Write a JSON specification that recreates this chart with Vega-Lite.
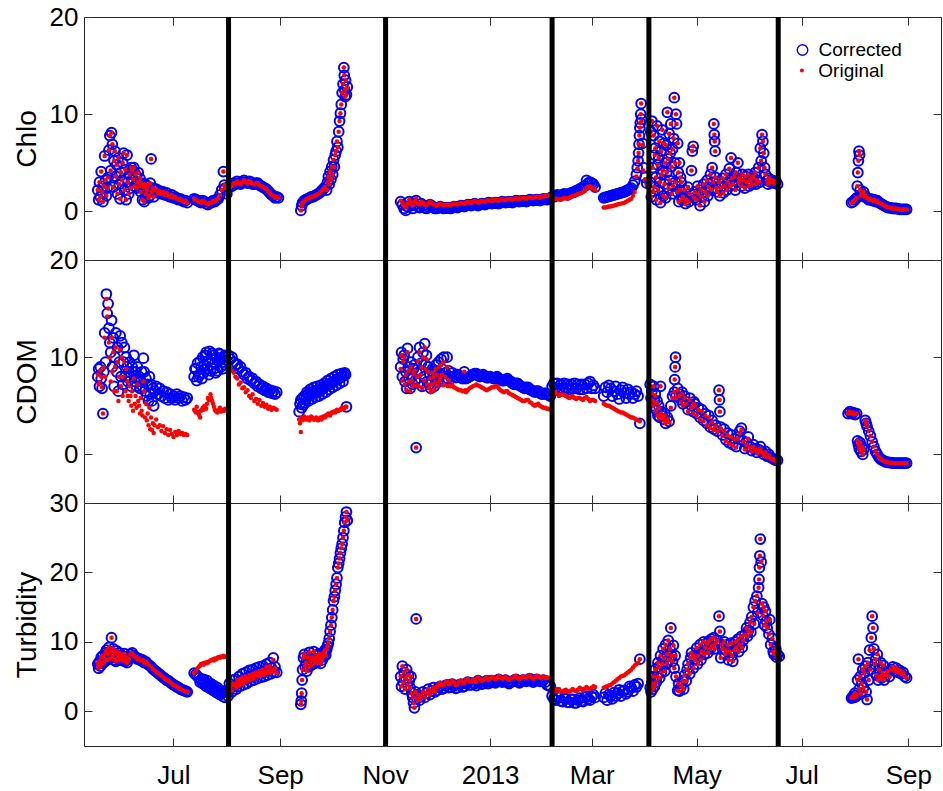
{
  "$schema": "https://vega.github.io/schema/vega-lite/v6.json",
  "background": "white",
  "padding": {"left": 12, "top": 3, "right": 0, "bottom": 0},
  "spacing": 0,
  "bounds": "flush",
  "resolve": {"scale": {"stroke": "independent", "fill": "independent"}, "legend": {"stroke": "independent", "fill": "independent"}},
  "config": {
    "view": {"stroke": "#262626", "strokeWidth": 1},
    "font": "Liberation Sans",
    "axis": {"domain": false, "grid": false, "ticks": true, "tickSize": -8, "tickColor": "#333333", "tickWidth": 1,
             "labelFont": "Liberation Sans", "labelFontSize": 26, "labelColor": "#000000",
             "titleFont": "Liberation Sans", "titleFontSize": 28, "titleFontWeight": "normal", "titleColor": "#000000"},
    "axisX": {"tickCount": {"interval": "month", "step": 2}, "labelPadding": 24, "labelFlush": false, "labelOverlap": false,
              "labelExpr": "utcFormat(datum.value, '%m') == '01' ? utcFormat(datum.value, '%Y') : utcFormat(datum.value, '%b')"},
    "axisY": {"labelPadding": 14, "titleX": -49, "titleBaseline": "alphabetic", "titleAngle": -90, "titleAlign": "center"},
    "legend": {"orient": "none", "title": null, "padding": 0, "labelFont": "Liberation Sans", "labelFontSize": 19, "labelColor": "#000000", "symbolType": "circle"}
  },
  "datasets": {
    "breaks": [{"t":"2012-08-02"},{"t":"2012-11-01T06:00Z"},{"t":"2013-02-06"},{"t":"2013-04-03T06:00Z"},{"t":"2013-06-17T10:00Z"}],
    "chlo": [
      {"t":"2012-05-18","c":2.2,"o":2.2},{"t":"2012-05-18T12:00Z","c":1.2,"o":1.2},{"t":"2012-05-19","c":3.0,"o":3.0},{"t":"2012-05-19T12:00Z","c":1.5,"o":1.5},
      {"t":"2012-05-20","c":4.1,"o":4.1},{"t":"2012-05-20T12:00Z","c":2.0,"o":2.0},{"t":"2012-05-21","c":1.0,"o":1.0},{"t":"2012-05-21T12:00Z","c":2.6,"o":2.6},
      {"t":"2012-05-22","c":5.7,"o":5.7},{"t":"2012-05-22T12:00Z","c":3.2,"o":3.2},{"t":"2012-05-23","c":1.6,"o":1.6},{"t":"2012-05-23T12:00Z","c":2.4,"o":2.4},
      {"t":"2012-05-24","c":3.5,"o":3.5},{"t":"2012-05-24T12:00Z","c":6.3,"o":6.3},{"t":"2012-05-25","c":7.8,"o":7.8},{"t":"2012-05-25T12:00Z","c":4.2,"o":4.2},
      {"t":"2012-05-26","c":8.1,"o":8.1},{"t":"2012-05-26T12:00Z","c":6.9,"o":6.9},{"t":"2012-05-27","c":2.5,"o":2.5},{"t":"2012-05-27T12:00Z","c":5.2,"o":5.2},
      {"t":"2012-05-28","c":6.2,"o":6.2},{"t":"2012-05-28T12:00Z","c":3.6,"o":3.6},{"t":"2012-05-29","c":4.8,"o":4.8},{"t":"2012-05-29T12:00Z","c":1.8,"o":1.8},
      {"t":"2012-05-30","c":5.5,"o":5.5},{"t":"2012-05-30T12:00Z","c":2.8,"o":2.8},{"t":"2012-05-31","c":1.3,"o":1.3},{"t":"2012-05-31T12:00Z","c":4.0,"o":4.0},
      {"t":"2012-06-01","c":3.2,"o":3.2},{"t":"2012-06-01T12:00Z","c":5.0,"o":5.0},{"t":"2012-06-02","c":6.0,"o":6.0},{"t":"2012-06-02T12:00Z","c":2.2,"o":2.2},
      {"t":"2012-06-03","c":4.3,"o":4.3},{"t":"2012-06-03T12:00Z","c":1.2,"o":1.2},{"t":"2012-06-04","c":5.8,"o":5.8},{"t":"2012-06-04T12:00Z","c":3.0,"o":3.0},
      {"t":"2012-06-05","c":1.8,"o":1.8},{"t":"2012-06-05T12:00Z","c":3.8,"o":3.8},{"t":"2012-06-06","c":2.4,"o":2.4},{"t":"2012-06-06T12:00Z","c":4.5,"o":4.5},
      {"t":"2012-06-07","c":4.2,"o":4.2},{"t":"2012-06-07T12:00Z","c":3.3,"o":3.3},{"t":"2012-06-08","c":4.5,"o":4.5},{"t":"2012-06-08T12:00Z","c":2.6,"o":2.6},
      {"t":"2012-06-09","c":3.8,"o":3.8},{"t":"2012-06-09T12:00Z","c":2.4,"o":2.4},{"t":"2012-06-10","c":3.0,"o":3.0},{"t":"2012-06-10T12:00Z","c":4.0,"o":4.0},
      {"t":"2012-06-11","c":2.6,"o":2.6},{"t":"2012-06-11T12:00Z","c":3.4,"o":3.4},{"t":"2012-06-12","c":2.0,"o":2.0},{"t":"2012-06-12T12:00Z","c":2.9,"o":2.9},
      {"t":"2012-06-13","c":1.2,"o":1.2},{"t":"2012-06-13T12:00Z","c":2.5,"o":2.5},{"t":"2012-06-14","c":1.0,"o":1.0},{"t":"2012-06-14T12:00Z","c":2.8,"o":2.8},
      {"t":"2012-06-15","c":1.8,"o":1.8},{"t":"2012-06-15T12:00Z","c":2.2,"o":2.2},{"t":"2012-06-16","c":2.6,"o":2.6},{"t":"2012-06-16T12:00Z","c":1.4,"o":1.4},
      {"t":"2012-06-17","c":1.6,"o":1.6},{"t":"2012-06-17T12:00Z","c":2.9,"o":2.9},{"t":"2012-06-18","c":5.4,"o":5.4},{"t":"2012-06-18T12:00Z","c":2.0,"o":2.0},
      {"t":"2012-06-19","c":2.4,"o":2.4},{"t":"2012-06-19T12:00Z","c":1.5,"o":1.5},{"t":"2012-06-20","c":2.2,"o":2.2},{"t":"2012-06-21","c":2.3,"o":2.3},
      {"t":"2012-06-22","c":1.9,"o":1.9},{"t":"2012-06-23","c":2.1,"o":2.1},{"t":"2012-06-24","c":1.8,"o":1.8},{"t":"2012-06-25","c":2.0,"o":2.0},
      {"t":"2012-06-26","c":1.7,"o":1.7},{"t":"2012-06-27","c":1.9,"o":1.9},{"t":"2012-06-28","c":1.6,"o":1.6},{"t":"2012-06-29","c":1.5,"o":1.5},
      {"t":"2012-06-30","c":1.7,"o":1.7},{"t":"2012-07-01","c":1.4,"o":1.4},{"t":"2012-07-02","c":1.5,"o":1.5},{"t":"2012-07-03","c":1.3,"o":1.3},
      {"t":"2012-07-04","c":1.2,"o":1.2},{"t":"2012-07-05","c":1.3,"o":1.3},{"t":"2012-07-06","c":1.1,"o":1.1},{"t":"2012-07-07","c":1.0,"o":1.0},
      {"t":"2012-07-08","c":1.1,"o":1.1},{"t":"2012-07-09","c":0.9,"o":0.9},
      {"t":"2012-07-13","c":1.3,"o":1.3},{"t":"2012-07-14","c":1.2,"o":1.2},{"t":"2012-07-15","c":1.1,"o":1.1},{"t":"2012-07-16","c":1.0,"o":1.0},
      {"t":"2012-07-17","c":0.9,"o":0.9},{"t":"2012-07-18","c":1.1,"o":1.1},{"t":"2012-07-19","c":1.0,"o":1.0},{"t":"2012-07-20","c":0.8,"o":0.8},
      {"t":"2012-07-21","c":0.7,"o":0.7},{"t":"2012-07-22","c":0.9,"o":0.9},{"t":"2012-07-23","c":0.9,"o":0.9},{"t":"2012-07-24","c":1.1,"o":1.1},
      {"t":"2012-07-25","c":1.0,"o":1.0},{"t":"2012-07-26","c":1.2,"o":1.2},{"t":"2012-07-27","c":1.3,"o":1.3},{"t":"2012-07-28","c":1.7,"o":1.7},
      {"t":"2012-07-29","c":2.2,"o":2.2},{"t":"2012-07-30","c":4.1,"o":4.1},{"t":"2012-07-30T12:00Z","c":2.7,"o":2.7},{"t":"2012-07-31","c":2.4,"o":2.4},
      {"t":"2012-08-01","c":1.8,"o":1.8},{"t":"2012-08-02","c":2.4,"o":2.4},{"t":"2012-08-03","c":2.7,"o":2.7},{"t":"2012-08-04","c":2.6,"o":2.6},
      {"t":"2012-08-05","c":2.9,"o":2.9},{"t":"2012-08-06","c":2.8,"o":2.8},{"t":"2012-08-07","c":3.1,"o":3.1},{"t":"2012-08-08","c":2.9,"o":2.9},
      {"t":"2012-08-09","c":2.8,"o":2.8},{"t":"2012-08-10","c":3.0,"o":3.0},{"t":"2012-08-11","c":3.2,"o":3.2},{"t":"2012-08-12","c":3.0,"o":3.0},
      {"t":"2012-08-13","c":2.9,"o":2.9},{"t":"2012-08-14","c":3.1,"o":3.1},{"t":"2012-08-15","c":3.0,"o":3.0},{"t":"2012-08-16","c":2.8,"o":2.8},
      {"t":"2012-08-17","c":2.8,"o":2.8},{"t":"2012-08-18","c":2.9,"o":2.9},{"t":"2012-08-19","c":2.9,"o":2.9},{"t":"2012-08-20","c":2.7,"o":2.7},
      {"t":"2012-08-21","c":2.6,"o":2.6},{"t":"2012-08-22","c":2.5,"o":2.5},{"t":"2012-08-23","c":2.4,"o":2.4},{"t":"2012-08-24","c":2.3,"o":2.3},
      {"t":"2012-08-25","c":2.1,"o":2.1},{"t":"2012-08-26","c":1.9,"o":1.9},{"t":"2012-08-27","c":1.7,"o":1.7},{"t":"2012-08-28","c":1.6,"o":1.6},
      {"t":"2012-08-29","c":1.4,"o":1.4},{"t":"2012-08-30","c":1.5,"o":1.5},{"t":"2012-08-31","c":1.4,"o":1.4},
      {"t":"2012-09-13","c":0.1,"o":0.1},{"t":"2012-09-13T12:00Z","c":0.6,"o":0.6},{"t":"2012-09-14","c":0.9,"o":0.9},{"t":"2012-09-15","c":1.1,"o":1.1},
      {"t":"2012-09-16","c":1.2,"o":1.2},{"t":"2012-09-17","c":1.3,"o":1.3},{"t":"2012-09-18","c":1.4,"o":1.4},{"t":"2012-09-19","c":1.5,"o":1.5},
      {"t":"2012-09-20","c":1.5,"o":1.5},{"t":"2012-09-21","c":1.6,"o":1.6},{"t":"2012-09-22","c":1.7,"o":1.7},{"t":"2012-09-23","c":1.8,"o":1.8},
      {"t":"2012-09-24","c":1.9,"o":1.9},{"t":"2012-09-25","c":2.1,"o":2.1},{"t":"2012-09-26","c":2.3,"o":2.3},{"t":"2012-09-27","c":2.5,"o":2.5},
      {"t":"2012-09-28","c":2.2,"o":2.2},{"t":"2012-09-28T12:00Z","c":3.0,"o":3.0},{"t":"2012-09-29","c":3.6,"o":3.6},{"t":"2012-09-29T12:00Z","c":2.8,"o":2.8},
      {"t":"2012-09-30","c":4.1,"o":4.1},{"t":"2012-09-30T12:00Z","c":3.3,"o":3.3},{"t":"2012-10-01","c":4.6,"o":4.6},{"t":"2012-10-01T12:00Z","c":3.8,"o":3.8},
      {"t":"2012-10-02","c":5.3,"o":5.3},{"t":"2012-10-02T12:00Z","c":4.6,"o":4.6},{"t":"2012-10-03","c":5.8,"o":5.8},{"t":"2012-10-03T12:00Z","c":6.2,"o":6.2},
      {"t":"2012-10-04","c":7.2,"o":7.2},{"t":"2012-10-04T12:00Z","c":6.6,"o":6.6},{"t":"2012-10-05","c":8.2,"o":8.2},{"t":"2012-10-05T12:00Z","c":9.3,"o":9.3},
      {"t":"2012-10-06","c":10.1,"o":10.1},{"t":"2012-10-06T12:00Z","c":11.0,"o":11.0},{"t":"2012-10-07","c":12.2,"o":12.2},{"t":"2012-10-07T12:00Z","c":13.1,"o":13.1},
      {"t":"2012-10-08","c":14.8,"o":14.8},{"t":"2012-10-08T06:00Z","c":14.0,"o":14.0},{"t":"2012-10-08T12:00Z","c":12.5,"o":12.5},{"t":"2012-10-08T18:00Z","c":11.8,"o":11.8},
      {"t":"2012-10-09","c":13.5,"o":13.5},{"t":"2012-10-09T12:00Z","c":12.0,"o":12.0},{"t":"2012-10-10","c":12.8,"o":12.8},
      {"t":"2012-11-10","c":1.0,"o":1.1},{"t":"2012-11-11","c":0.7,"o":0.9},{"t":"2012-11-12","c":0.3,"o":0.6},{"t":"2012-11-13","c":0.1,"o":0.4},
      {"t":"2012-11-14","c":0.5,"o":0.8},{"t":"2012-11-15","c":1.0,"o":1.2},{"t":"2012-11-16","c":0.6,"o":0.9},{"t":"2012-11-17","c":0.3,"o":0.6},
      {"t":"2012-11-18","c":0.7,"o":1.0},{"t":"2012-11-19","c":1.1,"o":1.3},{"t":"2012-11-20","c":0.5,"o":0.8},{"t":"2012-11-21","c":0.4,"o":0.7},
      {"t":"2012-11-22","c":0.8,"o":1.0},{"t":"2012-11-23","c":0.6,"o":0.9},{"t":"2012-11-24","c":0.4,"o":0.7},{"t":"2012-11-25","c":0.3,"o":0.6},
      {"t":"2012-11-26","c":0.5,"o":0.8},{"t":"2012-11-27","c":0.7,"o":1.0},{"t":"2012-11-28","c":0.6,"o":0.9},{"t":"2012-11-29","c":0.4,"o":0.7},
      {"t":"2012-11-30","c":0.3,"o":0.6},{"t":"2012-12-01","c":0.3,"o":0.6},{"t":"2012-12-02","c":0.4,"o":0.7},{"t":"2012-12-03","c":0.5,"o":0.8},
      {"t":"2012-12-04","c":0.4,"o":0.7},{"t":"2012-12-05","c":0.3,"o":0.6},{"t":"2012-12-06","c":0.35,"o":0.65},{"t":"2012-12-07","c":0.4,"o":0.7},
      {"t":"2012-12-08","c":0.35,"o":0.65},{"t":"2012-12-09","c":0.3,"o":0.6},{"t":"2012-12-10","c":0.4,"o":0.7},{"t":"2012-12-11","c":0.5,"o":0.8},
      {"t":"2012-12-12","c":0.45,"o":0.75},{"t":"2012-12-13","c":0.4,"o":0.7},{"t":"2012-12-14","c":0.5,"o":0.8},{"t":"2012-12-15","c":0.6,"o":0.9},
      {"t":"2012-12-16","c":0.55,"o":0.85},{"t":"2012-12-17","c":0.5,"o":0.8},{"t":"2012-12-18","c":0.6,"o":0.9},{"t":"2012-12-19","c":0.7,"o":1.0},
      {"t":"2012-12-20","c":0.65,"o":0.95},{"t":"2012-12-21","c":0.6,"o":0.9},{"t":"2012-12-22","c":0.7,"o":1.0},{"t":"2012-12-23","c":0.8,"o":1.1},
      {"t":"2012-12-24","c":0.7,"o":1.0},{"t":"2012-12-25","c":0.6,"o":0.9},{"t":"2012-12-26","c":0.7,"o":1.0},{"t":"2012-12-27","c":0.8,"o":1.1},
      {"t":"2012-12-28","c":0.75,"o":1.05},{"t":"2012-12-29","c":0.7,"o":1.0},{"t":"2012-12-30","c":0.8,"o":1.1},{"t":"2012-12-31","c":0.9,"o":1.15},
      {"t":"2013-01-01","c":0.85,"o":1.1},{"t":"2013-01-02","c":0.8,"o":1.1},{"t":"2013-01-03","c":0.85,"o":1.15},{"t":"2013-01-04","c":0.9,"o":1.2},
      {"t":"2013-01-05","c":0.85,"o":1.15},{"t":"2013-01-06","c":0.8,"o":1.1},{"t":"2013-01-07","c":0.9,"o":1.2},{"t":"2013-01-08","c":1.0,"o":1.25},
      {"t":"2013-01-09","c":0.95,"o":1.2},{"t":"2013-01-10","c":0.9,"o":1.2},{"t":"2013-01-11","c":0.95,"o":1.25},{"t":"2013-01-12","c":1.0,"o":1.3},
      {"t":"2013-01-13","c":0.95,"o":1.25},{"t":"2013-01-14","c":0.9,"o":1.2},{"t":"2013-01-15","c":1.0,"o":1.3},{"t":"2013-01-16","c":1.1,"o":1.35},
      {"t":"2013-01-17","c":1.05,"o":1.3},{"t":"2013-01-18","c":1.0,"o":1.3},{"t":"2013-01-19","c":1.05,"o":1.35},{"t":"2013-01-20","c":1.1,"o":1.4},
      {"t":"2013-01-21","c":1.05,"o":1.35},{"t":"2013-01-22","c":1.0,"o":1.3},{"t":"2013-01-23","c":1.1,"o":1.4},{"t":"2013-01-24","c":1.2,"o":1.45},
      {"t":"2013-01-25","c":1.15,"o":1.4},{"t":"2013-01-26","c":1.1,"o":1.4},{"t":"2013-01-27","c":1.15,"o":1.45},{"t":"2013-01-28","c":1.2,"o":1.5},
      {"t":"2013-01-29","c":1.15,"o":1.45},{"t":"2013-01-30","c":1.1,"o":1.4},{"t":"2013-01-31","c":1.2,"o":1.5},{"t":"2013-02-01","c":1.3,"o":1.55},
      {"t":"2013-02-02","c":1.25,"o":1.55},{"t":"2013-02-03","c":1.2,"o":1.6},{"t":"2013-02-04","c":1.3,"o":1.65},{"t":"2013-02-05","c":1.4,"o":1.7},
      {"t":"2013-02-06","c":1.5,"o":1.2},{"t":"2013-02-07","c":1.5,"o":1.2},{"t":"2013-02-08","c":1.6,"o":1.3},{"t":"2013-02-09","c":1.7,"o":1.3},
      {"t":"2013-02-10","c":1.65,"o":1.25},{"t":"2013-02-11","c":1.6,"o":1.2},{"t":"2013-02-12","c":1.7,"o":1.3},{"t":"2013-02-13","c":1.8,"o":1.4},
      {"t":"2013-02-14","c":1.75,"o":1.35},{"t":"2013-02-15","c":1.7,"o":1.3},{"t":"2013-02-16","c":1.8,"o":1.4},{"t":"2013-02-17","c":1.9,"o":1.5},
      {"t":"2013-02-18","c":1.95,"o":1.55},{"t":"2013-02-19","c":2.0,"o":1.6},{"t":"2013-02-20","c":2.1,"o":1.7},{"t":"2013-02-21","c":2.2,"o":1.8},
      {"t":"2013-02-22","c":2.3,"o":1.85},{"t":"2013-02-23","c":2.4,"o":1.9},{"t":"2013-02-24","c":2.5,"o":2.0},{"t":"2013-02-25","c":2.6,"o":2.1},
      {"t":"2013-02-26","c":3.2,"o":2.4},{"t":"2013-02-27","c":2.9,"o":2.5},{"t":"2013-02-28","c":3.0,"o":2.6},{"t":"2013-03-01","c":2.9,"o":2.4},
      {"t":"2013-03-02","c":2.8,"o":2.3},{"t":"2013-03-03","c":2.5,"o":2.2},
      {"t":"2013-03-08","c":1.4,"o":0.4},{"t":"2013-03-09","c":1.45,"o":0.4},{"t":"2013-03-10","c":1.5,"o":0.45},{"t":"2013-03-11","c":1.55,"o":0.5},
      {"t":"2013-03-12","c":1.6,"o":0.5},{"t":"2013-03-13","c":1.65,"o":0.55},{"t":"2013-03-14","c":1.7,"o":0.6},{"t":"2013-03-15","c":1.75,"o":0.65},
      {"t":"2013-03-16","c":1.8,"o":0.7},{"t":"2013-03-17","c":1.85,"o":0.75},{"t":"2013-03-18","c":1.9,"o":0.8},{"t":"2013-03-19","c":1.95,"o":0.85},
      {"t":"2013-03-20","c":2.0,"o":0.9},{"t":"2013-03-21","c":2.1,"o":1.0},{"t":"2013-03-22","c":2.2,"o":1.1},{"t":"2013-03-23","c":2.3,"o":1.2},
      {"t":"2013-03-24","c":2.4,"o":1.3},{"t":"2013-03-25","c":2.7,"o":1.6},{"t":"2013-03-26","c":3.1,"o":2.0},{"t":"2013-03-27","c":3.8,"o":3.6},
      {"t":"2013-03-27T12:00Z","c":4.5,"o":4.4},{"t":"2013-03-28","c":5.2,"o":5.2},{"t":"2013-03-28T06:00Z","c":6.0,"o":6.0},{"t":"2013-03-28T12:00Z","c":6.9,"o":6.9},
      {"t":"2013-03-28T18:00Z","c":7.8,"o":7.8},{"t":"2013-03-29","c":8.6,"o":8.6},{"t":"2013-03-29T06:00Z","c":9.1,"o":9.1},{"t":"2013-03-29T12:00Z","c":10.0,"o":10.0},
      {"t":"2013-03-29T18:00Z","c":11.1,"o":11.1},{"t":"2013-03-30","c":9.5,"o":9.3},{"t":"2013-03-30T12:00Z","c":7.0,"o":6.8},{"t":"2013-03-31","c":4.5,"o":4.2},
      {"t":"2013-04-01","c":3.5,"o":3.3},{"t":"2013-04-02","c":2.9,"o":2.7},
      {"t":"2013-04-04","c":3.0,"o":3.0},{"t":"2013-04-04T08:00Z","c":8.2,"o":8.2},{"t":"2013-04-04T16:00Z","c":1.5,"o":1.5},
      {"t":"2013-04-05","c":9.3,"o":9.3},{"t":"2013-04-05T08:00Z","c":4.5,"o":4.5},{"t":"2013-04-05T16:00Z","c":2.0,"o":2.0},
      {"t":"2013-04-06","c":7.8,"o":7.8},{"t":"2013-04-06T08:00Z","c":2.5,"o":2.5},{"t":"2013-04-06T16:00Z","c":5.8,"o":5.8},
      {"t":"2013-04-07","c":6.5,"o":6.5},{"t":"2013-04-07T08:00Z","c":3.5,"o":3.5},{"t":"2013-04-07T16:00Z","c":1.2,"o":1.2},
      {"t":"2013-04-08","c":8.8,"o":8.8},{"t":"2013-04-08T08:00Z","c":4.8,"o":4.8},{"t":"2013-04-08T16:00Z","c":2.2,"o":2.2},
      {"t":"2013-04-09","c":5.5,"o":5.5},{"t":"2013-04-09T08:00Z","c":7.2,"o":7.2},{"t":"2013-04-09T16:00Z","c":3.0,"o":3.0},
      {"t":"2013-04-10","c":0.9,"o":0.9},{"t":"2013-04-10T08:00Z","c":6.2,"o":6.2},{"t":"2013-04-10T16:00Z","c":3.8,"o":3.8},
      {"t":"2013-04-11","c":8.4,"o":8.4},{"t":"2013-04-11T08:00Z","c":4.2,"o":4.2},{"t":"2013-04-11T16:00Z","c":1.6,"o":1.6},
      {"t":"2013-04-12","c":7.0,"o":7.0},{"t":"2013-04-12T08:00Z","c":2.8,"o":2.8},{"t":"2013-04-12T16:00Z","c":5.0,"o":5.0},
      {"t":"2013-04-13","c":1.4,"o":1.4},{"t":"2013-04-13T08:00Z","c":6.8,"o":6.8},{"t":"2013-04-13T16:00Z","c":4.0,"o":4.0},
      {"t":"2013-04-14","c":10.2,"o":10.2},{"t":"2013-04-14T08:00Z","c":5.4,"o":5.4},{"t":"2013-04-14T16:00Z","c":2.4,"o":2.4},
      {"t":"2013-04-15","c":8.0,"o":8.0},{"t":"2013-04-15T08:00Z","c":3.2,"o":3.2},{"t":"2013-04-15T16:00Z","c":6.0,"o":6.0},
      {"t":"2013-04-16","c":9.0,"o":9.0},{"t":"2013-04-16T08:00Z","c":4.6,"o":4.6},{"t":"2013-04-16T16:00Z","c":1.8,"o":1.8},
      {"t":"2013-04-17","c":6.4,"o":6.4},{"t":"2013-04-17T08:00Z","c":2.6,"o":2.6},{"t":"2013-04-17T16:00Z","c":7.5,"o":7.5},
      {"t":"2013-04-18","c":11.7,"o":11.7},{"t":"2013-04-18T08:00Z","c":5.0,"o":5.0},{"t":"2013-04-18T16:00Z","c":3.0,"o":3.0},
      {"t":"2013-04-19","c":10.0,"o":10.0},{"t":"2013-04-19T08:00Z","c":9.0,"o":9.0},{"t":"2013-04-19T16:00Z","c":2.0,"o":2.0},
      {"t":"2013-04-20","c":7.0,"o":7.0},{"t":"2013-04-20T08:00Z","c":4.0,"o":4.0},{"t":"2013-04-20T16:00Z","c":1.0,"o":1.0},
      {"t":"2013-04-21","c":5.0,"o":5.0},{"t":"2013-04-21T08:00Z","c":2.2,"o":2.2},{"t":"2013-04-21T16:00Z","c":3.5,"o":3.5},
      {"t":"2013-04-22","c":3.0,"o":3.0},{"t":"2013-04-22T12:00Z","c":1.2,"o":1.2},{"t":"2013-04-23","c":1.5,"o":1.5},{"t":"2013-04-24","c":2.2,"o":2.2},
      {"t":"2013-04-24T12:00Z","c":0.8,"o":0.8},{"t":"2013-04-25","c":1.2,"o":1.2},{"t":"2013-04-26","c":2.5,"o":2.5},{"t":"2013-04-26T12:00Z","c":1.0,"o":1.0},
      {"t":"2013-04-27","c":1.8,"o":1.8},{"t":"2013-04-28","c":4.2,"o":4.2},{"t":"2013-04-28T12:00Z","c":6.2,"o":6.2},{"t":"2013-04-29","c":6.7,"o":6.7},
      {"t":"2013-04-29T12:00Z","c":1.4,"o":1.4},{"t":"2013-04-30","c":2.0,"o":2.0},{"t":"2013-05-01","c":1.2,"o":1.2},{"t":"2013-05-01T12:00Z","c":2.6,"o":2.6},
      {"t":"2013-05-02","c":1.8,"o":1.8},{"t":"2013-05-03","c":0.6,"o":0.6},{"t":"2013-05-03T12:00Z","c":2.2,"o":2.2},{"t":"2013-05-04","c":1.5,"o":1.5},
      {"t":"2013-05-05","c":2.8,"o":2.8},{"t":"2013-05-05T12:00Z","c":1.0,"o":1.0},{"t":"2013-05-06","c":2.0,"o":2.0},{"t":"2013-05-07","c":3.2,"o":3.2},
      {"t":"2013-05-07T12:00Z","c":1.6,"o":1.6},{"t":"2013-05-08","c":2.5,"o":2.5},{"t":"2013-05-09","c":3.8,"o":3.8},{"t":"2013-05-09T12:00Z","c":2.2,"o":2.2},
      {"t":"2013-05-10","c":4.5,"o":4.5},{"t":"2013-05-10T12:00Z","c":3.0,"o":3.0},{"t":"2013-05-11","c":9.0,"o":9.0},{"t":"2013-05-11T06:00Z","c":7.9,"o":7.9},
      {"t":"2013-05-11T12:00Z","c":7.2,"o":7.2},{"t":"2013-05-11T18:00Z","c":6.2,"o":6.2},{"t":"2013-05-12","c":3.5,"o":3.5},{"t":"2013-05-12T12:00Z","c":2.4,"o":2.4},
      {"t":"2013-05-13","c":2.0,"o":2.0},{"t":"2013-05-14","c":3.0,"o":3.0},{"t":"2013-05-14T12:00Z","c":1.6,"o":1.6},{"t":"2013-05-15","c":2.4,"o":2.4},
      {"t":"2013-05-16","c":3.4,"o":3.4},{"t":"2013-05-16T12:00Z","c":1.9,"o":1.9},{"t":"2013-05-17","c":2.6,"o":2.6},{"t":"2013-05-18","c":3.8,"o":3.8},
      {"t":"2013-05-18T12:00Z","c":2.2,"o":2.2},{"t":"2013-05-19","c":3.0,"o":3.0},{"t":"2013-05-20","c":4.4,"o":4.4},{"t":"2013-05-20T12:00Z","c":2.6,"o":2.6},
      {"t":"2013-05-21","c":5.5,"o":5.5},{"t":"2013-05-21T12:00Z","c":3.4,"o":3.4},{"t":"2013-05-22","c":2.8,"o":2.8},{"t":"2013-05-23","c":3.6,"o":3.6},
      {"t":"2013-05-23T12:00Z","c":2.2,"o":2.2},{"t":"2013-05-24","c":4.0,"o":4.0},{"t":"2013-05-25","c":5.0,"o":5.0},{"t":"2013-05-25T12:00Z","c":3.0,"o":3.0},
      {"t":"2013-05-26","c":3.4,"o":3.4},{"t":"2013-05-27","c":2.6,"o":2.6},{"t":"2013-05-27T12:00Z","c":3.8,"o":3.8},{"t":"2013-05-28","c":3.2,"o":3.2},
      {"t":"2013-05-29","c":2.4,"o":2.4},{"t":"2013-05-29T12:00Z","c":3.6,"o":3.6},{"t":"2013-05-30","c":3.0,"o":3.0},{"t":"2013-05-31","c":3.8,"o":3.8},
      {"t":"2013-05-31T12:00Z","c":2.6,"o":2.6},{"t":"2013-06-01","c":3.2,"o":3.2},{"t":"2013-06-02","c":2.8,"o":2.8},{"t":"2013-06-02T12:00Z","c":3.6,"o":3.6},
      {"t":"2013-06-03","c":3.4,"o":3.4},{"t":"2013-06-04","c":4.0,"o":4.0},{"t":"2013-06-04T12:00Z","c":2.8,"o":2.8},{"t":"2013-06-05","c":3.2,"o":3.2},
      {"t":"2013-06-06","c":4.5,"o":4.5},{"t":"2013-06-06T12:00Z","c":3.0,"o":3.0},{"t":"2013-06-07","c":6.5,"o":6.5},{"t":"2013-06-07T12:00Z","c":5.2,"o":5.2},
      {"t":"2013-06-08","c":7.9,"o":7.9},{"t":"2013-06-08T12:00Z","c":7.2,"o":7.2},{"t":"2013-06-09","c":6.0,"o":6.0},{"t":"2013-06-09T12:00Z","c":4.5,"o":4.5},
      {"t":"2013-06-10","c":3.8,"o":3.8},{"t":"2013-06-11","c":3.2,"o":3.2},{"t":"2013-06-11T12:00Z","c":2.8,"o":2.8},{"t":"2013-06-12","c":3.4,"o":3.4},
      {"t":"2013-06-13","c":3.0,"o":3.0},{"t":"2013-06-14","c":3.2,"o":3.2},{"t":"2013-06-15","c":2.9,"o":2.9},{"t":"2013-06-16","c":3.1,"o":3.1},
      {"t":"2013-06-17","c":2.8,"o":2.8},
      {"t":"2013-07-30","c":0.9,"o":0.9},{"t":"2013-07-31","c":1.0,"o":1.0},{"t":"2013-08-01","c":1.2,"o":1.2},{"t":"2013-08-02","c":1.4,"o":1.4},
      {"t":"2013-08-02T08:00Z","c":2.6,"o":2.6},{"t":"2013-08-02T16:00Z","c":4.0,"o":4.0},{"t":"2013-08-03","c":5.2,"o":5.2},{"t":"2013-08-03T08:00Z","c":6.2,"o":6.2},
      {"t":"2013-08-03T16:00Z","c":5.8,"o":5.8},{"t":"2013-08-04","c":2.2,"o":2.2},{"t":"2013-08-04T12:00Z","c":1.6,"o":1.6},{"t":"2013-08-05","c":1.8,"o":1.8},
      {"t":"2013-08-06","c":2.0,"o":2.0},{"t":"2013-08-06T12:00Z","c":1.5,"o":1.5},{"t":"2013-08-07","c":1.6,"o":1.6},{"t":"2013-08-08","c":1.4,"o":1.4},
      {"t":"2013-08-09","c":1.2,"o":1.2},{"t":"2013-08-10","c":1.3,"o":1.3},{"t":"2013-08-11","c":1.1,"o":1.1},{"t":"2013-08-12","c":1.2,"o":1.2},
      {"t":"2013-08-13","c":1.0,"o":1.0},{"t":"2013-08-14","c":1.1,"o":1.1},{"t":"2013-08-15","c":0.9,"o":0.9},{"t":"2013-08-16","c":0.8,"o":0.8},
      {"t":"2013-08-17","c":0.7,"o":0.7},{"t":"2013-08-18","c":0.6,"o":0.6},{"t":"2013-08-19","c":0.5,"o":0.5},{"t":"2013-08-20","c":0.4,"o":0.4},
      {"t":"2013-08-21","c":0.4,"o":0.4},{"t":"2013-08-22","c":0.35,"o":0.35},{"t":"2013-08-23","c":0.3,"o":0.3},{"t":"2013-08-24","c":0.3,"o":0.3},
      {"t":"2013-08-25","c":0.3,"o":0.3},{"t":"2013-08-26","c":0.25,"o":0.25},{"t":"2013-08-27","c":0.2,"o":0.2},{"t":"2013-08-28","c":0.2,"o":0.2},
      {"t":"2013-08-29","c":0.2,"o":0.2},{"t":"2013-08-30","c":0.2,"o":0.2},{"t":"2013-08-31","c":0.2,"o":0.2}
    ],
    "cdom": [
      {"t":"2012-05-18","c":8.0,"o":8.2},{"t":"2012-05-18T12:00Z","c":8.8,"o":7.2},{"t":"2012-05-19","c":7.0,"o":7.4},{"t":"2012-05-19T12:00Z","c":9.0,"o":8.6},
      {"t":"2012-05-20","c":7.8,"o":8.0},{"t":"2012-05-20T12:00Z","c":6.8,"o":6.9},{"t":"2012-05-21","c":4.2,"o":4.2},{"t":"2012-05-21T12:00Z","c":8.5,"o":9.0},
      {"t":"2012-05-22","c":12.5,"o":12.0},{"t":"2012-05-22T12:00Z","c":9.5,"o":8.0},{"t":"2012-05-23","c":16.5,"o":16.0},{"t":"2012-05-23T12:00Z","c":14.5,"o":14.2},
      {"t":"2012-05-24","c":15.5,"o":15.0},{"t":"2012-05-24T12:00Z","c":13.0,"o":11.5},{"t":"2012-05-25","c":11.5,"o":10.0},{"t":"2012-05-25T12:00Z","c":10.5,"o":7.5},
      {"t":"2012-05-26","c":13.8,"o":12.0},{"t":"2012-05-26T12:00Z","c":9.0,"o":8.5},{"t":"2012-05-27","c":12.0,"o":10.5},{"t":"2012-05-27T12:00Z","c":7.0,"o":6.5},
      {"t":"2012-05-28","c":10.0,"o":9.0},{"t":"2012-05-28T12:00Z","c":12.5,"o":11.0},{"t":"2012-05-29","c":8.5,"o":6.5},{"t":"2012-05-29T12:00Z","c":11.0,"o":9.5},
      {"t":"2012-05-30","c":6.5,"o":5.5},{"t":"2012-05-30T12:00Z","c":9.5,"o":8.0},{"t":"2012-05-31","c":12.2,"o":10.8},{"t":"2012-05-31T12:00Z","c":8.0,"o":7.0},
      {"t":"2012-06-01","c":11.5,"o":10.0},{"t":"2012-06-01T12:00Z","c":7.2,"o":6.0},{"t":"2012-06-02","c":9.5,"o":8.0},{"t":"2012-06-02T12:00Z","c":11.0,"o":9.5},
      {"t":"2012-06-03","c":8.0,"o":6.5},{"t":"2012-06-03T12:00Z","c":10.0,"o":8.8},{"t":"2012-06-04","c":9.0,"o":7.5},{"t":"2012-06-04T12:00Z","c":7.5,"o":6.0},
      {"t":"2012-06-05","c":8.5,"o":5.5},{"t":"2012-06-05T12:00Z","c":9.5,"o":7.0},{"t":"2012-06-06","c":8.0,"o":6.0},{"t":"2012-06-06T12:00Z","c":7.0,"o":5.0},
      {"t":"2012-06-07","c":9.0,"o":6.5},{"t":"2012-06-07T12:00Z","c":8.5,"o":4.5},{"t":"2012-06-08","c":10.2,"o":7.8},{"t":"2012-06-08T12:00Z","c":7.5,"o":5.2},
      {"t":"2012-06-09","c":8.5,"o":6.0},{"t":"2012-06-09T12:00Z","c":7.0,"o":4.8},{"t":"2012-06-10","c":9.0,"o":7.2},{"t":"2012-06-10T12:00Z","c":7.8,"o":5.5},
      {"t":"2012-06-11","c":8.0,"o":5.0},{"t":"2012-06-11T12:00Z","c":6.8,"o":4.2},{"t":"2012-06-12","c":7.5,"o":5.8},{"t":"2012-06-12T12:00Z","c":8.5,"o":4.5},
      {"t":"2012-06-13","c":7.0,"o":4.0},{"t":"2012-06-13T12:00Z","c":9.9,"o":7.5},{"t":"2012-06-14","c":8.5,"o":6.5},{"t":"2012-06-14T12:00Z","c":6.5,"o":3.8},
      {"t":"2012-06-15","c":7.8,"o":5.2},{"t":"2012-06-15T12:00Z","c":6.0,"o":3.5},{"t":"2012-06-16","c":7.2,"o":4.2},{"t":"2012-06-16T12:00Z","c":5.5,"o":3.0},
      {"t":"2012-06-17","c":8.0,"o":4.8},{"t":"2012-06-17T12:00Z","c":6.2,"o":2.6},{"t":"2012-06-18","c":7.2,"o":3.8},{"t":"2012-06-18T12:00Z","c":5.5,"o":2.5},
      {"t":"2012-06-19","c":6.8,"o":3.2},{"t":"2012-06-19T12:00Z","c":5.0,"o":2.2},{"t":"2012-06-20","c":6.5,"o":3.0},{"t":"2012-06-21","c":7.0,"o":3.6},
      {"t":"2012-06-22","c":6.2,"o":2.8},{"t":"2012-06-23","c":6.8,"o":3.0},{"t":"2012-06-24","c":6.0,"o":2.4},{"t":"2012-06-25","c":6.5,"o":2.9},
      {"t":"2012-06-26","c":5.8,"o":2.2},{"t":"2012-06-27","c":6.4,"o":2.6},{"t":"2012-06-28","c":5.6,"o":2.0},{"t":"2012-06-29","c":6.2,"o":2.5},
      {"t":"2012-06-30","c":5.8,"o":2.1},{"t":"2012-07-01","c":6.0,"o":1.8},{"t":"2012-07-02","c":5.6,"o":2.3},{"t":"2012-07-03","c":6.2,"o":2.0},
      {"t":"2012-07-04","c":5.8,"o":2.4},{"t":"2012-07-05","c":6.0,"o":2.1},{"t":"2012-07-06","c":5.5,"o":2.2},{"t":"2012-07-07","c":5.9,"o":2.0},
      {"t":"2012-07-08","c":5.6,"o":2.1},{"t":"2012-07-09","c":5.8,"o":2.0},
      {"t":"2012-07-13","c":8.0,"o":4.6},{"t":"2012-07-13T12:00Z","c":8.8,"o":4.5},{"t":"2012-07-14","c":8.8,"o":4.3},{"t":"2012-07-14T12:00Z","c":7.6,"o":4.9},
      {"t":"2012-07-15","c":9.4,"o":4.4},{"t":"2012-07-15T12:00Z","c":8.0,"o":4.2},{"t":"2012-07-16","c":8.2,"o":4.0},{"t":"2012-07-16T12:00Z","c":9.6,"o":3.8},
      {"t":"2012-07-17","c":9.0,"o":4.5},{"t":"2012-07-17T12:00Z","c":7.8,"o":4.6},{"t":"2012-07-18","c":10.0,"o":4.8},{"t":"2012-07-18T12:00Z","c":8.4,"o":4.6},
      {"t":"2012-07-19","c":9.2,"o":5.0},{"t":"2012-07-19T12:00Z","c":10.2,"o":4.9},{"t":"2012-07-20","c":10.5,"o":4.7},{"t":"2012-07-20T12:00Z","c":8.8,"o":5.2},
      {"t":"2012-07-21","c":9.6,"o":5.8},{"t":"2012-07-21T12:00Z","c":8.2,"o":5.6},{"t":"2012-07-22","c":10.6,"o":5.6},{"t":"2012-07-22T12:00Z","c":8.6,"o":6.2},
      {"t":"2012-07-23","c":9.8,"o":5.8},{"t":"2012-07-23T12:00Z","c":10.4,"o":5.5},{"t":"2012-07-24","c":10.2,"o":5.2},{"t":"2012-07-24T12:00Z","c":8.8,"o":4.9},
      {"t":"2012-07-25","c":9.4,"o":4.6},{"t":"2012-07-25T12:00Z","c":8.4,"o":4.5},{"t":"2012-07-26","c":10.0,"o":4.4},{"t":"2012-07-26T12:00Z","c":8.6,"o":4.3},
      {"t":"2012-07-27","c":9.6,"o":4.5},{"t":"2012-07-27T12:00Z","c":10.4,"o":4.6},{"t":"2012-07-28","c":10.3,"o":4.8},{"t":"2012-07-28T12:00Z","c":9.0,"o":4.4},
      {"t":"2012-07-29","c":9.8,"o":4.6},{"t":"2012-07-29T12:00Z","c":8.8,"o":4.5},{"t":"2012-07-30","c":9.5,"o":4.5},{"t":"2012-07-30T12:00Z","c":10.0,"o":4.5},
      {"t":"2012-07-31","c":10.2,"o":4.7},{"t":"2012-07-31T12:00Z","c":9.2,"o":4.6},
      {"t":"2012-08-02","c":10.2,"o":9.6},{"t":"2012-08-03","c":9.8,"o":9.0},{"t":"2012-08-04","c":10.0,"o":8.6},{"t":"2012-08-05","c":9.5,"o":8.4},
      {"t":"2012-08-06","c":9.2,"o":8.0},{"t":"2012-08-07","c":9.3,"o":7.8},{"t":"2012-08-08","c":8.8,"o":7.2},{"t":"2012-08-09","c":9.0,"o":7.4},
      {"t":"2012-08-10","c":8.5,"o":6.8},{"t":"2012-08-11","c":8.2,"o":6.9},{"t":"2012-08-12","c":8.4,"o":6.4},{"t":"2012-08-13","c":7.8,"o":6.6},
      {"t":"2012-08-14","c":8.0,"o":6.0},{"t":"2012-08-15","c":7.6,"o":5.8},{"t":"2012-08-16","c":7.8,"o":6.2},{"t":"2012-08-17","c":7.3,"o":5.5},
      {"t":"2012-08-18","c":7.5,"o":5.7},{"t":"2012-08-19","c":7.0,"o":5.2},{"t":"2012-08-20","c":7.2,"o":5.6},{"t":"2012-08-21","c":6.8,"o":5.0},
      {"t":"2012-08-22","c":7.0,"o":5.3},{"t":"2012-08-23","c":6.6,"o":4.9},{"t":"2012-08-24","c":6.8,"o":5.1},{"t":"2012-08-25","c":6.4,"o":4.7},
      {"t":"2012-08-26","c":6.6,"o":4.9},{"t":"2012-08-27","c":6.3,"o":4.6},{"t":"2012-08-28","c":6.5,"o":4.8},{"t":"2012-08-29","c":6.2,"o":4.7},
      {"t":"2012-08-30","c":6.4,"o":4.6},
      {"t":"2012-09-12","c":4.4,"o":3.6},{"t":"2012-09-12T12:00Z","c":5.2,"o":3.2},{"t":"2012-09-13","c":5.6,"o":2.3},{"t":"2012-09-13T12:00Z","c":4.8,"o":3.8},
      {"t":"2012-09-14","c":5.8,"o":3.5},{"t":"2012-09-14T12:00Z","c":5.1,"o":3.6},{"t":"2012-09-15","c":6.0,"o":3.9},{"t":"2012-09-15T12:00Z","c":5.3,"o":3.7},
      {"t":"2012-09-16","c":5.7,"o":3.6},{"t":"2012-09-16T12:00Z","c":6.4,"o":3.7},{"t":"2012-09-17","c":6.2,"o":3.8},{"t":"2012-09-17T12:00Z","c":5.5,"o":3.6},
      {"t":"2012-09-18","c":6.1,"o":3.5},{"t":"2012-09-18T12:00Z","c":6.7,"o":3.7},{"t":"2012-09-19","c":6.4,"o":3.9},{"t":"2012-09-19T12:00Z","c":5.7,"o":3.8},
      {"t":"2012-09-20","c":6.3,"o":3.7},{"t":"2012-09-20T12:00Z","c":6.9,"o":3.6},{"t":"2012-09-21","c":6.5,"o":3.6},{"t":"2012-09-21T12:00Z","c":5.9,"o":3.7},
      {"t":"2012-09-22","c":6.4,"o":3.8},{"t":"2012-09-22T12:00Z","c":7.0,"o":3.6},{"t":"2012-09-23","c":6.6,"o":3.5},{"t":"2012-09-23T12:00Z","c":6.0,"o":3.6},
      {"t":"2012-09-24","c":6.5,"o":3.7},{"t":"2012-09-24T12:00Z","c":7.1,"o":3.8},{"t":"2012-09-25","c":6.7,"o":3.6},{"t":"2012-09-25T12:00Z","c":6.2,"o":3.8},
      {"t":"2012-09-26","c":6.8,"o":3.9},{"t":"2012-09-26T12:00Z","c":7.3,"o":3.9},{"t":"2012-09-27","c":7.0,"o":3.8},{"t":"2012-09-27T12:00Z","c":6.4,"o":4.0},
      {"t":"2012-09-28","c":7.1,"o":4.0},{"t":"2012-09-28T12:00Z","c":7.6,"o":4.1},{"t":"2012-09-29","c":7.2,"o":4.2},{"t":"2012-09-29T12:00Z","c":6.7,"o":4.1},
      {"t":"2012-09-30","c":7.2,"o":4.0},{"t":"2012-09-30T12:00Z","c":7.8,"o":4.2},{"t":"2012-10-01","c":7.4,"o":4.3},{"t":"2012-10-01T12:00Z","c":6.9,"o":4.3},
      {"t":"2012-10-02","c":7.5,"o":4.4},{"t":"2012-10-02T12:00Z","c":8.0,"o":4.4},{"t":"2012-10-03","c":7.6,"o":4.3},{"t":"2012-10-03T12:00Z","c":7.1,"o":4.5},
      {"t":"2012-10-04","c":7.7,"o":4.6},{"t":"2012-10-04T12:00Z","c":8.2,"o":4.5},{"t":"2012-10-05","c":7.8,"o":4.5},{"t":"2012-10-05T12:00Z","c":7.3,"o":4.6},
      {"t":"2012-10-06","c":7.9,"o":4.6},{"t":"2012-10-06T12:00Z","c":8.3,"o":4.7},{"t":"2012-10-07","c":8.0,"o":4.8},{"t":"2012-10-07T12:00Z","c":7.5,"o":4.7},
      {"t":"2012-10-08","c":8.1,"o":4.7},{"t":"2012-10-08T12:00Z","c":8.4,"o":4.8},{"t":"2012-10-09","c":8.2,"o":4.9},{"t":"2012-10-09T12:00Z","c":4.9,"o":4.9},
      {"t":"2012-11-10","c":9.0,"o":8.8},{"t":"2012-11-10T12:00Z","c":10.5,"o":10.2},{"t":"2012-11-11","c":8.0,"o":7.6},{"t":"2012-11-11T12:00Z","c":9.8,"o":9.5},
      {"t":"2012-11-12","c":10.2,"o":10.0},{"t":"2012-11-12T12:00Z","c":7.5,"o":7.2},{"t":"2012-11-13","c":8.5,"o":8.2},{"t":"2012-11-13T12:00Z","c":6.8,"o":6.6},
      {"t":"2012-11-14","c":10.9,"o":10.5},{"t":"2012-11-14T12:00Z","c":9.0,"o":8.6},{"t":"2012-11-15","c":7.8,"o":7.5},{"t":"2012-11-15T12:00Z","c":6.8,"o":6.5},
      {"t":"2012-11-16","c":9.5,"o":9.0},{"t":"2012-11-16T12:00Z","c":8.0,"o":7.6},{"t":"2012-11-17","c":7.2,"o":7.0},{"t":"2012-11-17T12:00Z","c":8.8,"o":8.3},
      {"t":"2012-11-18","c":9.2,"o":8.6},{"t":"2012-11-18T12:00Z","c":7.6,"o":7.2},{"t":"2012-11-19","c":0.7,"o":0.7},{"t":"2012-11-19T12:00Z","c":8.4,"o":8.0},
      {"t":"2012-11-20","c":10.0,"o":9.6},{"t":"2012-11-20T12:00Z","c":7.4,"o":7.0},{"t":"2012-11-21","c":11.0,"o":10.5},{"t":"2012-11-21T12:00Z","c":8.6,"o":8.2},
      {"t":"2012-11-22","c":9.4,"o":9.0},{"t":"2012-11-22T12:00Z","c":7.0,"o":6.8},{"t":"2012-11-23","c":10.5,"o":10.0},{"t":"2012-11-23T12:00Z","c":8.0,"o":7.6},
      {"t":"2012-11-24","c":11.4,"o":11.0},{"t":"2012-11-24T12:00Z","c":9.2,"o":8.8},{"t":"2012-11-25","c":10.2,"o":9.8},{"t":"2012-11-25T12:00Z","c":7.5,"o":7.2},
      {"t":"2012-11-26","c":9.0,"o":8.5},{"t":"2012-11-26T12:00Z","c":7.2,"o":6.8},{"t":"2012-11-27","c":8.2,"o":7.8},{"t":"2012-11-27T12:00Z","c":6.8,"o":6.4},
      {"t":"2012-11-28","c":7.6,"o":7.2},{"t":"2012-11-28T12:00Z","c":8.8,"o":8.4},{"t":"2012-11-29","c":8.5,"o":8.0},{"t":"2012-11-29T12:00Z","c":7.0,"o":6.6},
      {"t":"2012-11-30","c":7.8,"o":7.4},{"t":"2012-11-30T12:00Z","c":9.2,"o":8.8},{"t":"2012-12-01","c":8.6,"o":8.2},{"t":"2012-12-01T12:00Z","c":7.4,"o":7.0},
      {"t":"2012-12-02","c":9.5,"o":9.0},{"t":"2012-12-02T12:00Z","c":8.0,"o":7.5},{"t":"2012-12-03","c":8.2,"o":7.8},{"t":"2012-12-03T12:00Z","c":9.8,"o":9.2},
      {"t":"2012-12-04","c":8.8,"o":8.2},{"t":"2012-12-04T12:00Z","c":7.6,"o":7.1},{"t":"2012-12-05","c":10.0,"o":9.5},{"t":"2012-12-05T12:00Z","c":7.6,"o":7.2},
      {"t":"2012-12-06","c":8.4,"o":8.0},{"t":"2012-12-07","c":10.0,"o":9.0},{"t":"2012-12-07T12:00Z","c":7.8,"o":7.0},{"t":"2012-12-08","c":8.6,"o":7.6},
      {"t":"2012-12-09","c":8.0,"o":7.0},{"t":"2012-12-10","c":8.4,"o":7.2},{"t":"2012-12-11","c":8.0,"o":6.9},{"t":"2012-12-12","c":7.9,"o":6.8},
      {"t":"2012-12-13","c":8.2,"o":6.7},{"t":"2012-12-14","c":8.1,"o":6.6},{"t":"2012-12-15","c":7.9,"o":6.6},{"t":"2012-12-16","c":7.8,"o":6.5},
      {"t":"2012-12-17","c":8.5,"o":8.5},{"t":"2012-12-17T12:00Z","c":7.9,"o":6.6},{"t":"2012-12-18","c":7.8,"o":6.4},{"t":"2012-12-19","c":7.9,"o":6.6},
      {"t":"2012-12-20","c":8.0,"o":6.8},{"t":"2012-12-21","c":8.1,"o":6.9},{"t":"2012-12-22","c":8.2,"o":7.0},{"t":"2012-12-23","c":8.3,"o":7.1},
      {"t":"2012-12-24","c":8.3,"o":7.2},{"t":"2012-12-25","c":8.1,"o":7.1},{"t":"2012-12-26","c":8.0,"o":7.0},{"t":"2012-12-27","c":8.1,"o":6.9},
      {"t":"2012-12-28","c":8.2,"o":6.8},{"t":"2012-12-29","c":8.0,"o":6.7},{"t":"2012-12-30","c":7.9,"o":6.6},{"t":"2012-12-31","c":7.9,"o":6.7},
      {"t":"2013-01-01","c":8.0,"o":6.8},{"t":"2013-01-02","c":7.9,"o":6.9},{"t":"2013-01-03","c":7.8,"o":6.9},{"t":"2013-01-04","c":7.9,"o":7.0},
      {"t":"2013-01-05","c":8.0,"o":7.0},{"t":"2013-01-06","c":7.8,"o":6.8},{"t":"2013-01-07","c":7.7,"o":6.6},{"t":"2013-01-08","c":7.6,"o":6.5},
      {"t":"2013-01-09","c":7.6,"o":6.4},{"t":"2013-01-10","c":7.7,"o":6.5},{"t":"2013-01-11","c":7.8,"o":6.5},{"t":"2013-01-12","c":7.6,"o":6.3},
      {"t":"2013-01-13","c":7.5,"o":6.2},{"t":"2013-01-14","c":7.3,"o":6.1},{"t":"2013-01-15","c":7.2,"o":6.0},{"t":"2013-01-16","c":7.3,"o":5.9},
      {"t":"2013-01-17","c":7.3,"o":5.8},{"t":"2013-01-18","c":7.1,"o":5.7},{"t":"2013-01-19","c":7.0,"o":5.6},{"t":"2013-01-20","c":6.9,"o":5.5},
      {"t":"2013-01-21","c":6.8,"o":5.5},{"t":"2013-01-22","c":6.9,"o":5.6},{"t":"2013-01-23","c":6.9,"o":5.6},{"t":"2013-01-24","c":6.7,"o":5.4},
      {"t":"2013-01-25","c":6.6,"o":5.3},{"t":"2013-01-26","c":6.5,"o":5.1},{"t":"2013-01-27","c":6.4,"o":5.0},{"t":"2013-01-28","c":6.5,"o":5.1},
      {"t":"2013-01-29","c":6.5,"o":5.2},{"t":"2013-01-30","c":6.3,"o":5.0},{"t":"2013-01-31","c":6.2,"o":4.9},{"t":"2013-02-01","c":6.2,"o":4.8},
      {"t":"2013-02-02","c":6.3,"o":4.8},{"t":"2013-02-03","c":6.2,"o":4.7},{"t":"2013-02-04","c":6.1,"o":4.7},{"t":"2013-02-05","c":6.0,"o":4.6},
      {"t":"2013-02-06","c":7.0,"o":6.2},{"t":"2013-02-07","c":7.3,"o":6.3},{"t":"2013-02-08","c":6.8,"o":6.4},{"t":"2013-02-09","c":7.3,"o":6.2},
      {"t":"2013-02-10","c":6.8,"o":6.0},{"t":"2013-02-11","c":7.2,"o":6.1},{"t":"2013-02-12","c":6.7,"o":6.2},{"t":"2013-02-13","c":7.3,"o":6.1},
      {"t":"2013-02-14","c":6.8,"o":6.0},{"t":"2013-02-15","c":7.2,"o":5.9},{"t":"2013-02-16","c":6.7,"o":5.8},{"t":"2013-02-17","c":7.2,"o":5.9},
      {"t":"2013-02-18","c":6.8,"o":6.0},{"t":"2013-02-19","c":7.3,"o":5.8},{"t":"2013-02-20","c":6.8,"o":5.7},{"t":"2013-02-21","c":7.2,"o":5.8},
      {"t":"2013-02-22","c":6.7,"o":5.8},{"t":"2013-02-23","c":7.2,"o":5.7},{"t":"2013-02-24","c":6.7,"o":5.6},{"t":"2013-02-25","c":7.2,"o":5.8},
      {"t":"2013-02-26","c":6.8,"o":5.9},{"t":"2013-02-27","c":7.3,"o":5.7},{"t":"2013-02-28","c":7.5,"o":5.5},{"t":"2013-03-01","c":6.8,"o":5.6},
      {"t":"2013-03-02","c":7.1,"o":5.6},{"t":"2013-03-03","c":6.8,"o":5.5},
      {"t":"2013-03-08","c":6.0,"o":5.2},{"t":"2013-03-09","c":6.9,"o":5.1},{"t":"2013-03-10","c":6.4,"o":5.0},{"t":"2013-03-11","c":7.1,"o":5.0},
      {"t":"2013-03-12","c":6.8,"o":4.9},{"t":"2013-03-13","c":6.0,"o":4.8},{"t":"2013-03-14","c":6.5,"o":4.7},{"t":"2013-03-15","c":7.0,"o":4.6},
      {"t":"2013-03-16","c":6.2,"o":4.5},{"t":"2013-03-17","c":5.7,"o":4.4},{"t":"2013-03-18","c":6.6,"o":4.3},{"t":"2013-03-19","c":6.9,"o":4.3},
      {"t":"2013-03-20","c":6.3,"o":4.2},{"t":"2013-03-21","c":5.8,"o":4.1},{"t":"2013-03-22","c":6.7,"o":4.0},{"t":"2013-03-23","c":6.2,"o":3.9},
      {"t":"2013-03-24","c":6.4,"o":3.8},{"t":"2013-03-25","c":5.8,"o":3.8},{"t":"2013-03-26","c":6.2,"o":3.7},{"t":"2013-03-27","c":6.5,"o":3.6},
      {"t":"2013-03-28","c":6.0,"o":3.5},{"t":"2013-03-29","c":3.2,"o":3.4},
      {"t":"2013-04-04","c":7.2,"o":7.0},{"t":"2013-04-04T12:00Z","c":5.8,"o":5.6},{"t":"2013-04-05","c":6.5,"o":6.3},{"t":"2013-04-05T12:00Z","c":5.0,"o":5.0},
      {"t":"2013-04-06","c":7.0,"o":7.0},{"t":"2013-04-06T12:00Z","c":5.5,"o":5.4},{"t":"2013-04-07","c":6.2,"o":6.0},{"t":"2013-04-07T12:00Z","c":4.6,"o":4.5},
      {"t":"2013-04-08","c":5.5,"o":5.3},{"t":"2013-04-08T12:00Z","c":4.0,"o":4.0},{"t":"2013-04-09","c":5.0,"o":4.8},{"t":"2013-04-09T12:00Z","c":3.8,"o":3.7},
      {"t":"2013-04-10","c":7.0,"o":7.0},{"t":"2013-04-10T12:00Z","c":4.4,"o":4.2},{"t":"2013-04-11","c":4.0,"o":3.8},{"t":"2013-04-12","c":3.6,"o":3.5},
      {"t":"2013-04-12T12:00Z","c":4.2,"o":4.0},{"t":"2013-04-13","c":3.2,"o":3.2},{"t":"2013-04-14","c":3.8,"o":3.6},{"t":"2013-04-15","c":3.4,"o":3.3},
      {"t":"2013-04-16","c":5.0,"o":4.8},{"t":"2013-04-17","c":6.0,"o":5.8},{"t":"2013-04-18","c":6.4,"o":6.4},{"t":"2013-04-18T06:00Z","c":7.7,"o":7.7},
      {"t":"2013-04-18T12:00Z","c":9.0,"o":9.0},{"t":"2013-04-18T18:00Z","c":10.0,"o":10.0},{"t":"2013-04-19","c":6.0,"o":5.8},{"t":"2013-04-20","c":6.8,"o":6.6},
      {"t":"2013-04-21","c":6.2,"o":6.0},{"t":"2013-04-22","c":5.6,"o":5.4},{"t":"2013-04-22T12:00Z","c":6.4,"o":6.2},{"t":"2013-04-23","c":5.2,"o":5.0},
      {"t":"2013-04-24","c":6.0,"o":5.8},{"t":"2013-04-25","c":5.4,"o":5.2},{"t":"2013-04-26","c":4.6,"o":4.4},{"t":"2013-04-27","c":5.8,"o":5.6},
      {"t":"2013-04-28","c":5.0,"o":4.8},{"t":"2013-04-29","c":4.4,"o":4.2},{"t":"2013-04-29T12:00Z","c":5.4,"o":5.2},{"t":"2013-04-30","c":5.2,"o":5.0},
      {"t":"2013-05-01","c":4.2,"o":4.0},{"t":"2013-05-02","c":4.8,"o":4.6},{"t":"2013-05-03","c":3.8,"o":3.6},{"t":"2013-05-04","c":4.6,"o":4.4},
      {"t":"2013-05-05","c":3.5,"o":3.4},{"t":"2013-05-06","c":4.2,"o":4.0},{"t":"2013-05-07","c":3.2,"o":3.0},{"t":"2013-05-08","c":4.0,"o":3.8},
      {"t":"2013-05-09","c":2.8,"o":2.7},{"t":"2013-05-10","c":3.5,"o":3.3},{"t":"2013-05-11","c":2.6,"o":2.5},{"t":"2013-05-12","c":3.0,"o":2.9},
      {"t":"2013-05-13","c":2.4,"o":2.3},{"t":"2013-05-14","c":6.6,"o":6.6},{"t":"2013-05-14T06:00Z","c":5.6,"o":5.6},{"t":"2013-05-14T12:00Z","c":4.4,"o":4.4},
      {"t":"2013-05-15","c":2.8,"o":2.7},{"t":"2013-05-16","c":2.0,"o":1.9},{"t":"2013-05-17","c":2.6,"o":2.4},{"t":"2013-05-18","c":1.5,"o":1.4},
      {"t":"2013-05-19","c":2.2,"o":2.0},{"t":"2013-05-20","c":1.2,"o":1.1},{"t":"2013-05-21","c":2.0,"o":1.8},{"t":"2013-05-22","c":1.0,"o":0.9},
      {"t":"2013-05-23","c":1.6,"o":1.5},{"t":"2013-05-24","c":0.8,"o":0.7},{"t":"2013-05-25","c":1.8,"o":1.6},{"t":"2013-05-26","c":2.4,"o":2.2},
      {"t":"2013-05-27","c":2.7,"o":2.5},{"t":"2013-05-28","c":1.4,"o":1.3},{"t":"2013-05-29","c":0.6,"o":0.5},{"t":"2013-05-30","c":1.2,"o":1.0},
      {"t":"2013-05-31","c":1.8,"o":1.6},{"t":"2013-06-01","c":0.8,"o":0.7},{"t":"2013-06-02","c":0.4,"o":0.3},{"t":"2013-06-03","c":1.0,"o":0.8},
      {"t":"2013-06-04","c":0.6,"o":0.5},{"t":"2013-06-05","c":0.2,"o":0.1},{"t":"2013-06-06","c":0.5,"o":0.4},{"t":"2013-06-07","c":0.8,"o":0.6},
      {"t":"2013-06-08","c":0.3,"o":0.2},{"t":"2013-06-09","c":0.0,"o":-0.1},{"t":"2013-06-10","c":0.3,"o":0.2},{"t":"2013-06-11","c":-0.2,"o":-0.3},
      {"t":"2013-06-12","c":0.0,"o":-0.1},{"t":"2013-06-13","c":-0.3,"o":-0.4},{"t":"2013-06-14","c":-0.4,"o":-0.5},{"t":"2013-06-15","c":-0.5,"o":-0.6},
      {"t":"2013-06-16","c":-0.6,"o":-0.7},{"t":"2013-06-17","c":-0.6,"o":-0.7},
      {"t":"2013-07-28","c":4.2,"o":4.2},{"t":"2013-07-29","c":4.4,"o":4.4},{"t":"2013-07-30","c":4.2,"o":4.2},{"t":"2013-07-31","c":4.3,"o":4.3},
      {"t":"2013-08-01","c":4.1,"o":4.1},{"t":"2013-08-02","c":4.2,"o":4.2},{"t":"2013-08-02T12:00Z","c":1.4,"o":1.4},{"t":"2013-08-03","c":1.0,"o":1.0},
      {"t":"2013-08-03T12:00Z","c":0.6,"o":0.6},{"t":"2013-08-04","c":1.2,"o":1.2},{"t":"2013-08-04T12:00Z","c":0.3,"o":0.3},{"t":"2013-08-05","c":0.8,"o":0.8},
      {"t":"2013-08-05T12:00Z","c":0.0,"o":0.0},{"t":"2013-08-06","c":0.5,"o":0.5},{"t":"2013-08-07","c":3.5,"o":3.5},{"t":"2013-08-07T12:00Z","c":3.2,"o":3.2},
      {"t":"2013-08-08","c":2.9,"o":2.9},{"t":"2013-08-09","c":2.4,"o":2.4},{"t":"2013-08-10","c":1.9,"o":1.9},{"t":"2013-08-11","c":1.3,"o":1.3},
      {"t":"2013-08-12","c":0.8,"o":0.8},{"t":"2013-08-13","c":0.3,"o":0.3},{"t":"2013-08-14","c":0.0,"o":0.0},{"t":"2013-08-15","c":-0.3,"o":-0.3},
      {"t":"2013-08-16","c":-0.5,"o":-0.5},{"t":"2013-08-17","c":-0.6,"o":-0.6},{"t":"2013-08-18","c":-0.7,"o":-0.7},{"t":"2013-08-19","c":-0.8,"o":-0.8},
      {"t":"2013-08-20","c":-0.8,"o":-0.8},{"t":"2013-08-21","c":-0.85,"o":-0.85},{"t":"2013-08-22","c":-0.85,"o":-0.85},{"t":"2013-08-23","c":-0.9,"o":-0.9},
      {"t":"2013-08-24","c":-0.9,"o":-0.9},{"t":"2013-08-25","c":-0.9,"o":-0.9},{"t":"2013-08-26","c":-0.9,"o":-0.9},{"t":"2013-08-27","c":-0.9,"o":-0.9},
      {"t":"2013-08-28","c":-0.9,"o":-0.9},{"t":"2013-08-29","c":-0.9,"o":-0.9},{"t":"2013-08-30","c":-0.9,"o":-0.9},{"t":"2013-08-31","c":-0.9,"o":-0.9}
    ],
    "turb": [
      {"t":"2012-05-18","c":6.8,"o":6.8},{"t":"2012-05-18T12:00Z","c":6.2,"o":6.2},{"t":"2012-05-19","c":7.2,"o":7.2},{"t":"2012-05-19T12:00Z","c":6.5,"o":6.5},
      {"t":"2012-05-20","c":7.8,"o":7.8},{"t":"2012-05-20T12:00Z","c":6.9,"o":6.9},{"t":"2012-05-21","c":8.0,"o":8.0},{"t":"2012-05-21T12:00Z","c":7.0,"o":7.0},
      {"t":"2012-05-22","c":7.5,"o":7.5},{"t":"2012-05-22T12:00Z","c":8.4,"o":8.4},{"t":"2012-05-23","c":8.8,"o":8.8},{"t":"2012-05-23T12:00Z","c":7.4,"o":7.4},
      {"t":"2012-05-24","c":8.2,"o":8.2},{"t":"2012-05-24T12:00Z","c":9.2,"o":9.2},{"t":"2012-05-25","c":7.6,"o":7.6},{"t":"2012-05-25T12:00Z","c":8.6,"o":8.6},
      {"t":"2012-05-26","c":10.6,"o":10.6},{"t":"2012-05-26T12:00Z","c":8.0,"o":8.0},{"t":"2012-05-27","c":9.0,"o":9.0},{"t":"2012-05-27T12:00Z","c":7.4,"o":7.4},
      {"t":"2012-05-28","c":8.3,"o":8.3},{"t":"2012-05-28T12:00Z","c":7.2,"o":7.2},{"t":"2012-05-29","c":8.7,"o":8.7},{"t":"2012-05-29T12:00Z","c":7.6,"o":7.6},
      {"t":"2012-05-30","c":7.9,"o":7.9},{"t":"2012-05-30T12:00Z","c":8.4,"o":8.4},{"t":"2012-05-31","c":7.4,"o":7.4},{"t":"2012-05-31T12:00Z","c":8.1,"o":8.1},
      {"t":"2012-06-01","c":8.0,"o":8.0},{"t":"2012-06-01T12:00Z","c":7.3,"o":7.3},{"t":"2012-06-02","c":7.6,"o":7.6},{"t":"2012-06-02T12:00Z","c":8.3,"o":8.3},
      {"t":"2012-06-03","c":7.2,"o":7.2},{"t":"2012-06-03T12:00Z","c":7.8,"o":7.8},{"t":"2012-06-04","c":7.0,"o":7.0},{"t":"2012-06-04T12:00Z","c":7.6,"o":7.6},
      {"t":"2012-06-05","c":7.5,"o":7.5},{"t":"2012-06-06","c":8.2,"o":8.2},{"t":"2012-06-07","c":8.4,"o":8.4},{"t":"2012-06-08","c":8.0,"o":8.0},
      {"t":"2012-06-09","c":7.8,"o":7.8},{"t":"2012-06-10","c":7.5,"o":7.5},{"t":"2012-06-11","c":7.6,"o":7.6},{"t":"2012-06-12","c":7.3,"o":7.3},
      {"t":"2012-06-13","c":7.4,"o":7.4},{"t":"2012-06-14","c":7.0,"o":7.0},{"t":"2012-06-15","c":7.1,"o":7.1},{"t":"2012-06-16","c":6.8,"o":6.8},
      {"t":"2012-06-17","c":6.6,"o":6.6},{"t":"2012-06-18","c":6.4,"o":6.4},{"t":"2012-06-19","c":6.1,"o":6.1},{"t":"2012-06-20","c":5.9,"o":5.9},
      {"t":"2012-06-21","c":5.7,"o":5.7},{"t":"2012-06-22","c":5.5,"o":5.5},{"t":"2012-06-23","c":5.3,"o":5.3},{"t":"2012-06-24","c":5.1,"o":5.1},
      {"t":"2012-06-25","c":4.9,"o":4.9},{"t":"2012-06-26","c":4.7,"o":4.7},{"t":"2012-06-27","c":4.5,"o":4.5},{"t":"2012-06-28","c":4.4,"o":4.4},
      {"t":"2012-06-29","c":4.2,"o":4.2},{"t":"2012-06-30","c":4.0,"o":4.0},{"t":"2012-07-01","c":3.8,"o":3.8},{"t":"2012-07-02","c":3.7,"o":3.7},
      {"t":"2012-07-03","c":3.5,"o":3.5},{"t":"2012-07-04","c":3.4,"o":3.4},{"t":"2012-07-05","c":3.2,"o":3.2},{"t":"2012-07-06","c":3.1,"o":3.1},
      {"t":"2012-07-07","c":3.0,"o":3.0},{"t":"2012-07-08","c":2.9,"o":2.9},{"t":"2012-07-09","c":2.8,"o":2.8},
      {"t":"2012-07-13","c":5.5,"o":5.5},{"t":"2012-07-14","c":5.3,"o":5.8},{"t":"2012-07-15","c":5.0,"o":6.2},{"t":"2012-07-16","c":4.8,"o":6.5},
      {"t":"2012-07-16T12:00Z","c":4.2,"o":6.6},{"t":"2012-07-17","c":4.5,"o":6.8},{"t":"2012-07-18","c":4.0,"o":6.9},{"t":"2012-07-18T12:00Z","c":4.6,"o":6.7},
      {"t":"2012-07-19","c":4.2,"o":7.0},{"t":"2012-07-20","c":3.6,"o":6.9},{"t":"2012-07-20T12:00Z","c":4.4,"o":7.1},{"t":"2012-07-21","c":3.8,"o":7.0},
      {"t":"2012-07-22","c":3.3,"o":7.2},{"t":"2012-07-22T12:00Z","c":4.0,"o":7.3},{"t":"2012-07-23","c":3.5,"o":7.4},{"t":"2012-07-24","c":3.0,"o":7.5},
      {"t":"2012-07-24T12:00Z","c":3.7,"o":7.3},{"t":"2012-07-25","c":3.2,"o":7.6},{"t":"2012-07-26","c":2.7,"o":7.5},{"t":"2012-07-26T12:00Z","c":3.4,"o":7.7},
      {"t":"2012-07-27","c":2.9,"o":7.8},{"t":"2012-07-28","c":2.4,"o":7.7},{"t":"2012-07-28T12:00Z","c":3.0,"o":7.9},{"t":"2012-07-29","c":2.6,"o":7.8},
      {"t":"2012-07-30","c":2.1,"o":8.0},{"t":"2012-07-30T12:00Z","c":2.8,"o":7.8},{"t":"2012-07-31","c":2.0,"o":7.9},
      {"t":"2012-08-01T18:00Z","c":2.2,"o":2.6},{"t":"2012-08-02","c":2.9,"o":2.9},{"t":"2012-08-02T12:00Z","c":4.0,"o":3.2},{"t":"2012-08-03","c":3.3,"o":3.5},
      {"t":"2012-08-04","c":2.8,"o":3.0},{"t":"2012-08-04T12:00Z","c":4.5,"o":4.0},{"t":"2012-08-05","c":3.6,"o":3.8},{"t":"2012-08-06","c":4.6,"o":3.9},
      {"t":"2012-08-06T12:00Z","c":3.2,"o":3.4},{"t":"2012-08-07","c":3.9,"o":4.5},{"t":"2012-08-08","c":5.0,"o":4.2},{"t":"2012-08-08T12:00Z","c":3.6,"o":3.7},
      {"t":"2012-08-09","c":4.4,"o":4.6},{"t":"2012-08-10","c":5.4,"o":4.9},{"t":"2012-08-10T12:00Z","c":3.8,"o":4.0},{"t":"2012-08-11","c":4.6,"o":4.4},
      {"t":"2012-08-12","c":5.6,"o":5.0},{"t":"2012-08-12T12:00Z","c":4.0,"o":4.3},{"t":"2012-08-13","c":4.8,"o":4.8},{"t":"2012-08-14","c":5.9,"o":5.2},
      {"t":"2012-08-14T12:00Z","c":4.3,"o":4.5},{"t":"2012-08-15","c":5.0,"o":5.0},{"t":"2012-08-16","c":6.0,"o":5.4},{"t":"2012-08-16T12:00Z","c":4.5,"o":4.7},
      {"t":"2012-08-17","c":5.3,"o":5.2},{"t":"2012-08-18","c":6.2,"o":5.6},{"t":"2012-08-18T12:00Z","c":4.7,"o":5.0},{"t":"2012-08-19","c":5.5,"o":5.4},
      {"t":"2012-08-20","c":6.4,"o":5.8},{"t":"2012-08-20T12:00Z","c":4.9,"o":5.1},{"t":"2012-08-21","c":5.6,"o":5.5},{"t":"2012-08-22","c":6.5,"o":6.0},
      {"t":"2012-08-22T12:00Z","c":5.0,"o":5.3},{"t":"2012-08-23","c":5.8,"o":5.7},{"t":"2012-08-24","c":6.8,"o":6.4},{"t":"2012-08-24T12:00Z","c":5.2,"o":5.5},
      {"t":"2012-08-25","c":6.0,"o":5.8},{"t":"2012-08-26","c":7.0,"o":6.5},{"t":"2012-08-26T12:00Z","c":5.4,"o":5.6},{"t":"2012-08-27","c":6.2,"o":6.0},
      {"t":"2012-08-28","c":7.7,"o":7.4},{"t":"2012-08-28T12:00Z","c":5.6,"o":5.8},{"t":"2012-08-29","c":6.4,"o":6.2},{"t":"2012-08-30","c":5.6,"o":5.5},
      {"t":"2012-09-13","c":1.0,"o":1.0},{"t":"2012-09-13T06:00Z","c":1.5,"o":1.5},{"t":"2012-09-13T12:00Z","c":2.6,"o":2.6},{"t":"2012-09-13T18:00Z","c":4.5,"o":4.5},
      {"t":"2012-09-14","c":6.0,"o":6.0},{"t":"2012-09-14T12:00Z","c":7.7,"o":7.7},{"t":"2012-09-15","c":8.2,"o":8.2},{"t":"2012-09-15T12:00Z","c":6.5,"o":6.5},
      {"t":"2012-09-16","c":7.0,"o":7.0},{"t":"2012-09-16T12:00Z","c":5.8,"o":5.8},{"t":"2012-09-17","c":7.8,"o":7.8},{"t":"2012-09-17T12:00Z","c":6.4,"o":6.4},
      {"t":"2012-09-18","c":8.5,"o":8.5},{"t":"2012-09-18T12:00Z","c":7.2,"o":7.2},{"t":"2012-09-19","c":6.6,"o":6.6},{"t":"2012-09-19T12:00Z","c":7.8,"o":7.8},
      {"t":"2012-09-20","c":7.4,"o":7.4},{"t":"2012-09-20T12:00Z","c":8.6,"o":8.6},{"t":"2012-09-21","c":6.9,"o":6.9},{"t":"2012-09-21T12:00Z","c":7.6,"o":7.6},
      {"t":"2012-09-22","c":8.0,"o":8.0},{"t":"2012-09-22T12:00Z","c":7.1,"o":7.1},{"t":"2012-09-23","c":7.3,"o":7.3},{"t":"2012-09-23T12:00Z","c":8.3,"o":8.3},
      {"t":"2012-09-24","c":7.7,"o":7.7},{"t":"2012-09-24T12:00Z","c":6.9,"o":6.9},{"t":"2012-09-25","c":7.9,"o":7.9},{"t":"2012-09-25T12:00Z","c":7.4,"o":7.4},
      {"t":"2012-09-26","c":8.4,"o":8.4},{"t":"2012-09-26T12:00Z","c":8.0,"o":8.0},{"t":"2012-09-27","c":8.8,"o":8.8},{"t":"2012-09-27T12:00Z","c":8.1,"o":8.1},
      {"t":"2012-09-28","c":8.9,"o":8.9},{"t":"2012-09-28T12:00Z","c":9.4,"o":9.4},{"t":"2012-09-29","c":9.8,"o":9.8},{"t":"2012-09-29T12:00Z","c":10.5,"o":10.5},
      {"t":"2012-09-30","c":11.5,"o":11.5},{"t":"2012-09-30T12:00Z","c":12.4,"o":12.4},{"t":"2012-10-01","c":13.5,"o":13.5},{"t":"2012-10-01T12:00Z","c":14.6,"o":14.6},
      {"t":"2012-10-02","c":15.9,"o":15.9},{"t":"2012-10-02T12:00Z","c":16.5,"o":16.5},{"t":"2012-10-03","c":17.4,"o":17.4},{"t":"2012-10-03T12:00Z","c":18.3,"o":18.3},
      {"t":"2012-10-04","c":19.2,"o":19.2},{"t":"2012-10-04T12:00Z","c":20.7,"o":20.7},{"t":"2012-10-05","c":21.3,"o":21.3},{"t":"2012-10-05T12:00Z","c":22.0,"o":22.0},
      {"t":"2012-10-06","c":22.8,"o":22.8},{"t":"2012-10-06T12:00Z","c":23.5,"o":23.5},{"t":"2012-10-07","c":24.1,"o":24.1},{"t":"2012-10-07T12:00Z","c":25.0,"o":25.0},
      {"t":"2012-10-08","c":26.0,"o":26.0},{"t":"2012-10-08T12:00Z","c":27.2,"o":27.2},{"t":"2012-10-09","c":28.0,"o":28.0},{"t":"2012-10-09T12:00Z","c":28.7,"o":28.7},
      {"t":"2012-10-10","c":27.5,"o":27.5},
      {"t":"2012-11-10","c":5.0,"o":5.0},{"t":"2012-11-10T12:00Z","c":3.6,"o":3.6},{"t":"2012-11-11","c":6.5,"o":6.5},{"t":"2012-11-11T12:00Z","c":4.2,"o":4.2},
      {"t":"2012-11-12","c":5.6,"o":5.6},{"t":"2012-11-12T12:00Z","c":3.2,"o":3.2},{"t":"2012-11-13","c":4.8,"o":4.8},{"t":"2012-11-13T12:00Z","c":6.0,"o":6.0},
      {"t":"2012-11-14","c":3.8,"o":3.8},{"t":"2012-11-14T12:00Z","c":5.2,"o":5.2},{"t":"2012-11-15","c":4.4,"o":4.4},{"t":"2012-11-15T12:00Z","c":3.4,"o":3.4},
      {"t":"2012-11-16","c":5.0,"o":5.0},{"t":"2012-11-16T12:00Z","c":2.6,"o":2.6},{"t":"2012-11-17","c":2.0,"o":2.0},{"t":"2012-11-17T12:00Z","c":1.2,"o":1.2},
      {"t":"2012-11-18","c":0.5,"o":0.5},{"t":"2012-11-18T12:00Z","c":2.8,"o":2.8},{"t":"2012-11-19","c":13.3,"o":13.3},{"t":"2012-11-19T12:00Z","c":1.8,"o":1.8},
      {"t":"2012-11-20","c":2.4,"o":2.4},{"t":"2012-11-21","c":1.6,"o":1.6},{"t":"2012-11-22","c":2.2,"o":2.2},{"t":"2012-11-23","c":2.8,"o":2.8},
      {"t":"2012-11-24","c":2.0,"o":2.0},{"t":"2012-11-25","c":2.6,"o":2.6},{"t":"2012-11-26","c":3.2,"o":3.2},{"t":"2012-11-27","c":2.4,"o":2.4},
      {"t":"2012-11-28","c":2.9,"o":2.9},{"t":"2012-11-29","c":3.4,"o":3.4},{"t":"2012-11-30","c":2.8,"o":2.8},
      {"t":"2012-12-01","c":3.0,"o":3.5},{"t":"2012-12-02","c":3.4,"o":3.9},{"t":"2012-12-03","c":3.6,"o":4.1},{"t":"2012-12-04","c":3.2,"o":3.7},
      {"t":"2012-12-05","c":3.3,"o":3.8},{"t":"2012-12-06","c":3.7,"o":4.2},{"t":"2012-12-07","c":3.8,"o":4.3},{"t":"2012-12-08","c":3.4,"o":3.9},
      {"t":"2012-12-09","c":3.5,"o":4.0},{"t":"2012-12-10","c":3.9,"o":4.4},{"t":"2012-12-11","c":3.7,"o":4.2},{"t":"2012-12-12","c":3.3,"o":3.8},
      {"t":"2012-12-13","c":3.4,"o":3.9},{"t":"2012-12-14","c":3.8,"o":4.3},{"t":"2012-12-15","c":3.9,"o":4.4},{"t":"2012-12-16","c":3.5,"o":4.0},
      {"t":"2012-12-17","c":3.6,"o":4.1},{"t":"2012-12-18","c":4.0,"o":4.5},{"t":"2012-12-19","c":4.2,"o":4.7},{"t":"2012-12-20","c":3.8,"o":4.3},
      {"t":"2012-12-21","c":3.8,"o":4.3},{"t":"2012-12-22","c":4.1,"o":4.6},{"t":"2012-12-23","c":4.0,"o":4.5},{"t":"2012-12-24","c":3.7,"o":4.2},
      {"t":"2012-12-25","c":4.4,"o":4.9},{"t":"2012-12-26","c":4.2,"o":4.7},{"t":"2012-12-27","c":3.9,"o":4.4},{"t":"2012-12-28","c":4.0,"o":4.5},
      {"t":"2012-12-29","c":4.2,"o":4.7},{"t":"2012-12-30","c":4.4,"o":4.9},{"t":"2012-12-31","c":4.0,"o":4.5},{"t":"2013-01-01","c":4.2,"o":4.7},
      {"t":"2013-01-02","c":4.4,"o":4.9},{"t":"2013-01-03","c":4.3,"o":4.8},{"t":"2013-01-04","c":4.1,"o":4.6},{"t":"2013-01-05","c":4.3,"o":4.8},
      {"t":"2013-01-06","c":4.6,"o":5.1},{"t":"2013-01-07","c":4.4,"o":4.9},{"t":"2013-01-08","c":4.2,"o":4.7},{"t":"2013-01-09","c":4.3,"o":4.8},
      {"t":"2013-01-10","c":4.5,"o":5.0},{"t":"2013-01-11","c":4.2,"o":4.7},{"t":"2013-01-12","c":4.0,"o":4.5},{"t":"2013-01-13","c":4.2,"o":4.7},
      {"t":"2013-01-14","c":4.3,"o":4.8},{"t":"2013-01-15","c":4.5,"o":5.0},{"t":"2013-01-16","c":4.6,"o":5.1},{"t":"2013-01-17","c":4.3,"o":4.8},
      {"t":"2013-01-18","c":4.1,"o":4.6},{"t":"2013-01-19","c":4.3,"o":4.8},{"t":"2013-01-20","c":4.5,"o":5.0},{"t":"2013-01-21","c":4.4,"o":4.9},
      {"t":"2013-01-22","c":4.3,"o":4.8},{"t":"2013-01-23","c":4.5,"o":5.0},{"t":"2013-01-24","c":4.7,"o":5.2},{"t":"2013-01-25","c":4.4,"o":4.9},
      {"t":"2013-01-26","c":4.2,"o":4.7},{"t":"2013-01-27","c":4.4,"o":4.9},{"t":"2013-01-28","c":4.6,"o":5.1},{"t":"2013-01-29","c":4.5,"o":5.0},
      {"t":"2013-01-30","c":4.3,"o":4.8},{"t":"2013-01-31","c":4.4,"o":4.9},{"t":"2013-02-01","c":4.5,"o":5.0},{"t":"2013-02-02","c":4.2,"o":4.8},
      {"t":"2013-02-03","c":3.8,"o":4.9},{"t":"2013-02-04","c":3.7,"o":4.8},{"t":"2013-02-05","c":3.6,"o":4.8},
      {"t":"2013-02-06","c":2.2,"o":3.3},{"t":"2013-02-07","c":1.8,"o":3.1},{"t":"2013-02-08","c":1.6,"o":2.9},{"t":"2013-02-09","c":2.1,"o":3.2},
      {"t":"2013-02-10","c":2.0,"o":3.2},{"t":"2013-02-11","c":1.5,"o":2.9},{"t":"2013-02-12","c":1.4,"o":2.8},{"t":"2013-02-13","c":1.9,"o":3.0},
      {"t":"2013-02-14","c":1.8,"o":3.1},{"t":"2013-02-15","c":1.3,"o":2.9},{"t":"2013-02-16","c":1.3,"o":2.8},{"t":"2013-02-17","c":1.7,"o":3.0},
      {"t":"2013-02-18","c":1.7,"o":3.2},{"t":"2013-02-19","c":1.2,"o":3.0},{"t":"2013-02-20","c":1.2,"o":2.9},{"t":"2013-02-21","c":1.6,"o":3.1},
      {"t":"2013-02-22","c":1.9,"o":3.4},{"t":"2013-02-23","c":1.5,"o":3.2},{"t":"2013-02-24","c":1.4,"o":3.0},{"t":"2013-02-25","c":2.0,"o":3.3},
      {"t":"2013-02-26","c":2.2,"o":3.5},{"t":"2013-02-27","c":1.8,"o":3.3},{"t":"2013-02-28","c":1.6,"o":3.2},{"t":"2013-03-01","c":2.1,"o":3.4},
      {"t":"2013-03-02","c":2.4,"o":3.6},{"t":"2013-03-03","c":2.0,"o":3.5},
      {"t":"2013-03-08","c":2.0,"o":3.4},{"t":"2013-03-09","c":2.6,"o":3.5},{"t":"2013-03-10","c":1.6,"o":3.6},{"t":"2013-03-11","c":2.4,"o":3.7},
      {"t":"2013-03-12","c":2.2,"o":3.8},{"t":"2013-03-13","c":1.8,"o":4.0},{"t":"2013-03-14","c":2.7,"o":4.2},{"t":"2013-03-15","c":2.2,"o":4.4},
      {"t":"2013-03-16","c":2.6,"o":4.6},{"t":"2013-03-17","c":3.1,"o":4.8},{"t":"2013-03-18","c":2.2,"o":5.0},{"t":"2013-03-19","c":2.9,"o":5.1},
      {"t":"2013-03-20","c":3.0,"o":5.2},{"t":"2013-03-21","c":2.5,"o":5.4},{"t":"2013-03-22","c":2.8,"o":5.6},{"t":"2013-03-23","c":3.6,"o":5.8},
      {"t":"2013-03-24","c":3.4,"o":6.0},{"t":"2013-03-25","c":2.9,"o":6.3},{"t":"2013-03-26","c":3.8,"o":6.6},{"t":"2013-03-27","c":3.5,"o":6.8},
      {"t":"2013-03-28","c":4.0,"o":7.0},{"t":"2013-03-29","c":7.5,"o":7.5},
      {"t":"2013-04-04","c":3.4,"o":3.4},{"t":"2013-04-04T12:00Z","c":2.8,"o":2.8},{"t":"2013-04-05","c":4.0,"o":4.0},{"t":"2013-04-05T12:00Z","c":3.2,"o":3.2},
      {"t":"2013-04-06","c":5.0,"o":5.0},{"t":"2013-04-06T12:00Z","c":3.6,"o":3.6},{"t":"2013-04-07","c":6.0,"o":6.0},{"t":"2013-04-07T12:00Z","c":4.2,"o":4.2},
      {"t":"2013-04-08","c":5.0,"o":5.0},{"t":"2013-04-08T12:00Z","c":7.0,"o":7.0},{"t":"2013-04-09","c":6.4,"o":6.4},{"t":"2013-04-09T12:00Z","c":4.8,"o":4.8},
      {"t":"2013-04-10","c":8.0,"o":8.0},{"t":"2013-04-10T12:00Z","c":5.6,"o":5.6},{"t":"2013-04-11","c":6.8,"o":6.8},{"t":"2013-04-11T12:00Z","c":9.0,"o":9.0},
      {"t":"2013-04-12","c":7.6,"o":7.6},{"t":"2013-04-12T12:00Z","c":5.8,"o":5.8},{"t":"2013-04-13","c":9.6,"o":9.6},{"t":"2013-04-13T12:00Z","c":6.8,"o":6.8},
      {"t":"2013-04-14","c":8.2,"o":8.2},{"t":"2013-04-14T12:00Z","c":10.2,"o":10.2},{"t":"2013-04-15","c":7.4,"o":7.4},{"t":"2013-04-15T12:00Z","c":9.0,"o":9.0},
      {"t":"2013-04-16","c":12.0,"o":12.0},{"t":"2013-04-16T12:00Z","c":8.0,"o":8.0},{"t":"2013-04-17","c":7.2,"o":7.2},{"t":"2013-04-17T12:00Z","c":9.5,"o":9.5},
      {"t":"2013-04-18","c":6.2,"o":6.2},{"t":"2013-04-18T12:00Z","c":8.0,"o":8.0},{"t":"2013-04-19","c":5.0,"o":5.0},{"t":"2013-04-20","c":3.0,"o":3.0},
      {"t":"2013-04-20T12:00Z","c":4.0,"o":4.0},{"t":"2013-04-21","c":2.9,"o":2.9},{"t":"2013-04-22","c":3.6,"o":3.6},{"t":"2013-04-23","c":4.4,"o":4.4},
      {"t":"2013-04-23T12:00Z","c":3.2,"o":3.2},{"t":"2013-04-24","c":5.2,"o":5.2},{"t":"2013-04-25","c":4.4,"o":4.4},{"t":"2013-04-25T12:00Z","c":6.0,"o":6.0},
      {"t":"2013-04-26","c":6.8,"o":6.8},{"t":"2013-04-27","c":5.4,"o":5.4},{"t":"2013-04-27T12:00Z","c":7.7,"o":7.7},{"t":"2013-04-28","c":8.4,"o":8.4},
      {"t":"2013-04-29","c":6.2,"o":6.2},{"t":"2013-04-29T12:00Z","c":8.0,"o":8.0},{"t":"2013-04-30","c":7.4,"o":7.4},{"t":"2013-05-01","c":9.1,"o":9.1},
      {"t":"2013-05-01T12:00Z","c":6.8,"o":6.8},{"t":"2013-05-02","c":8.0,"o":8.0},{"t":"2013-05-03","c":9.6,"o":9.6},{"t":"2013-05-03T12:00Z","c":7.4,"o":7.4},
      {"t":"2013-05-04","c":8.6,"o":8.6},{"t":"2013-05-05","c":10.0,"o":10.0},{"t":"2013-05-05T12:00Z","c":8.2,"o":8.2},{"t":"2013-05-06","c":9.2,"o":9.2},
      {"t":"2013-05-07","c":9.8,"o":9.8},{"t":"2013-05-07T12:00Z","c":8.4,"o":8.4},{"t":"2013-05-08","c":10.1,"o":10.1},{"t":"2013-05-09","c":9.0,"o":9.0},
      {"t":"2013-05-09T12:00Z","c":10.4,"o":10.4},{"t":"2013-05-10","c":9.4,"o":9.4},{"t":"2013-05-11","c":10.6,"o":10.6},{"t":"2013-05-11T12:00Z","c":9.0,"o":9.0},
      {"t":"2013-05-12","c":9.8,"o":9.8},{"t":"2013-05-13","c":10.2,"o":10.2},{"t":"2013-05-14","c":13.7,"o":13.7},{"t":"2013-05-14T12:00Z","c":11.5,"o":11.5},
      {"t":"2013-05-15","c":7.7,"o":7.7},{"t":"2013-05-15T12:00Z","c":9.6,"o":9.6},{"t":"2013-05-16","c":9.0,"o":9.0},{"t":"2013-05-17","c":10.0,"o":10.0},
      {"t":"2013-05-17T12:00Z","c":8.2,"o":8.2},{"t":"2013-05-18","c":8.8,"o":8.8},{"t":"2013-05-19","c":9.6,"o":9.6},{"t":"2013-05-19T12:00Z","c":7.4,"o":7.4},
      {"t":"2013-05-20","c":8.6,"o":8.6},{"t":"2013-05-21","c":9.8,"o":9.8},{"t":"2013-05-21T12:00Z","c":8.0,"o":8.0},{"t":"2013-05-22","c":7.2,"o":7.2},
      {"t":"2013-05-23","c":8.8,"o":8.8},{"t":"2013-05-23T12:00Z","c":10.0,"o":10.0},{"t":"2013-05-24","c":9.2,"o":9.2},{"t":"2013-05-25","c":10.4,"o":10.4},
      {"t":"2013-05-25T12:00Z","c":8.6,"o":8.6},{"t":"2013-05-26","c":9.6,"o":9.6},{"t":"2013-05-27","c":10.8,"o":10.8},{"t":"2013-05-27T12:00Z","c":9.2,"o":9.2},
      {"t":"2013-05-28","c":10.2,"o":10.2},{"t":"2013-05-29","c":11.0,"o":11.0},{"t":"2013-05-30","c":12.0,"o":12.0},{"t":"2013-05-30T12:00Z","c":10.8,"o":10.8},
      {"t":"2013-05-31","c":11.6,"o":11.6},{"t":"2013-06-01","c":12.8,"o":12.8},{"t":"2013-06-01T12:00Z","c":11.4,"o":11.4},{"t":"2013-06-02","c":13.6,"o":13.6},
      {"t":"2013-06-03","c":15.0,"o":15.0},{"t":"2013-06-03T12:00Z","c":12.6,"o":12.6},{"t":"2013-06-04","c":15.9,"o":15.9},{"t":"2013-06-05","c":16.6,"o":16.6},
      {"t":"2013-06-05T12:00Z","c":14.2,"o":14.2},{"t":"2013-06-06","c":17.8,"o":17.8},{"t":"2013-06-06T06:00Z","c":19.0,"o":19.0},{"t":"2013-06-06T12:00Z","c":20.7,"o":20.7},
      {"t":"2013-06-06T18:00Z","c":22.4,"o":22.4},{"t":"2013-06-07","c":24.8,"o":24.8},{"t":"2013-06-07T12:00Z","c":21.5,"o":21.5},{"t":"2013-06-08","c":15.5,"o":15.5},
      {"t":"2013-06-08T12:00Z","c":13.8,"o":13.8},{"t":"2013-06-09","c":15.0,"o":15.0},{"t":"2013-06-09T12:00Z","c":12.4,"o":12.4},{"t":"2013-06-10","c":14.4,"o":14.4},
      {"t":"2013-06-10T12:00Z","c":13.0,"o":13.0},{"t":"2013-06-11","c":12.0,"o":12.0},{"t":"2013-06-12","c":11.1,"o":11.1},{"t":"2013-06-12T12:00Z","c":13.2,"o":13.2},
      {"t":"2013-06-13","c":9.6,"o":9.6},{"t":"2013-06-14","c":10.5,"o":10.5},{"t":"2013-06-14T12:00Z","c":8.6,"o":8.6},{"t":"2013-06-15","c":8.2,"o":8.2},
      {"t":"2013-06-16","c":9.0,"o":9.0},{"t":"2013-06-16T12:00Z","c":7.8,"o":7.8},{"t":"2013-06-17","c":8.2,"o":8.2},{"t":"2013-06-18","c":7.9,"o":7.9},
      {"t":"2013-07-30","c":1.9,"o":1.9},{"t":"2013-07-30T12:00Z","c":2.0,"o":2.0},{"t":"2013-07-31","c":2.2,"o":2.2},{"t":"2013-07-31T12:00Z","c":2.0,"o":2.0},
      {"t":"2013-08-01","c":2.6,"o":2.6},{"t":"2013-08-01T12:00Z","c":2.1,"o":2.1},{"t":"2013-08-02","c":2.3,"o":2.3},{"t":"2013-08-02T12:00Z","c":4.5,"o":4.5},
      {"t":"2013-08-03","c":7.5,"o":7.5},{"t":"2013-08-03T12:00Z","c":3.2,"o":3.2},{"t":"2013-08-04","c":5.0,"o":5.0},{"t":"2013-08-04T12:00Z","c":2.5,"o":2.5},
      {"t":"2013-08-05","c":4.0,"o":4.0},{"t":"2013-08-05T12:00Z","c":6.0,"o":6.0},{"t":"2013-08-06","c":3.4,"o":3.4},{"t":"2013-08-06T12:00Z","c":5.5,"o":5.5},
      {"t":"2013-08-07","c":6.5,"o":6.5},{"t":"2013-08-07T12:00Z","c":2.8,"o":2.8},{"t":"2013-08-08","c":1.7,"o":1.7},{"t":"2013-08-08T12:00Z","c":7.0,"o":7.0},
      {"t":"2013-08-09","c":4.5,"o":4.5},{"t":"2013-08-09T12:00Z","c":8.8,"o":8.8},{"t":"2013-08-10","c":6.0,"o":6.0},{"t":"2013-08-10T12:00Z","c":10.6,"o":10.6},
      {"t":"2013-08-11","c":13.7,"o":13.7},{"t":"2013-08-11T12:00Z","c":12.0,"o":12.0},{"t":"2013-08-12","c":9.0,"o":9.0},{"t":"2013-08-12T12:00Z","c":6.8,"o":6.8},
      {"t":"2013-08-13","c":7.5,"o":7.5},{"t":"2013-08-13T12:00Z","c":5.2,"o":5.2},{"t":"2013-08-14","c":8.2,"o":8.2},{"t":"2013-08-14T12:00Z","c":4.5,"o":4.5},
      {"t":"2013-08-15","c":6.0,"o":6.0},{"t":"2013-08-15T12:00Z","c":5.0,"o":5.0},{"t":"2013-08-16","c":7.0,"o":7.0},{"t":"2013-08-16T12:00Z","c":4.8,"o":4.8},
      {"t":"2013-08-17","c":5.5,"o":5.5},{"t":"2013-08-17T12:00Z","c":6.6,"o":6.6},{"t":"2013-08-18","c":4.5,"o":4.5},{"t":"2013-08-19","c":5.2,"o":5.2},
      {"t":"2013-08-20","c":5.8,"o":5.8},{"t":"2013-08-21","c":5.0,"o":5.0},{"t":"2013-08-22","c":6.0,"o":6.0},{"t":"2013-08-23","c":6.4,"o":6.4},
      {"t":"2013-08-24","c":5.8,"o":5.8},{"t":"2013-08-25","c":6.2,"o":6.2},{"t":"2013-08-26","c":5.6,"o":5.6},{"t":"2013-08-27","c":5.9,"o":5.9},
      {"t":"2013-08-28","c":5.4,"o":5.4},{"t":"2013-08-29","c":5.6,"o":5.6},{"t":"2013-08-30","c":5.0,"o":5.0},{"t":"2013-08-31","c":4.8,"o":4.8}
    ]
  },
  "vconcat": [
    {
      "width": 857, "height": 243,
      "resolve": {"axis": {"x": "independent", "y": "independent"}},
      "layer": [
        {
          "data": {"name": "chlo"},
          "mark": {"type": "point", "shape": "circle", "filled": false, "size": 95, "strokeWidth": 2, "opacity": 1},
          "encoding": {
            "x": {"field": "t", "type": "temporal", "scale": {"type": "utc", "domain": [{"year": 2012, "month": 5, "date": 10, "utc": true}, {"year": 2013, "month": 9, "date": 20, "utc": true}]}, "axis": {"orient": "bottom", "labels": false, "title": null}},
            "y": {"field": "c", "type": "quantitative", "scale": {"domain": [-5, 20], "nice": false, "zero": false}, "axis": {"orient": "left", "values": [0, 10, 20], "title": "Chlo"}},
            "stroke": {"datum": "Corrected", "scale": {"range": ["#0000ff"]},
              "legend": {"legendX": 709, "legendY": 23.5, "labelOffset": 6.5, "symbolSize": 110, "symbolStrokeWidth": 1.4}}
          }
        },
        {
          "data": {"name": "chlo"},
          "mark": {"type": "circle", "size": 20, "opacity": 1},
          "encoding": {
            "x": {"field": "t", "type": "temporal", "axis": {"orient": "top", "labels": false, "title": null}},
            "y": {"field": "o", "type": "quantitative", "axis": {"orient": "right", "values": [0, 10, 20], "labels": false, "title": null}},
            "fill": {"datum": "Original", "scale": {"range": ["#ff0000"]},
              "legend": {"legendX": 708.4, "legendY": 44, "labelOffset": 6.9, "symbolSize": 16, "symbolStrokeWidth": 0}}
          }
        },
        {
          "data": {"name": "breaks"},
          "mark": {"type": "rule", "color": "#000000", "strokeWidth": 5},
          "encoding": {"x": {"field": "t", "type": "temporal", "axis": null}}
        }
      ]
    },
    {
      "width": 857, "height": 243,
      "resolve": {"axis": {"x": "independent", "y": "independent"}},
      "layer": [
        {
          "data": {"name": "cdom"},
          "mark": {"type": "point", "shape": "circle", "filled": false, "size": 95, "strokeWidth": 2, "opacity": 1},
          "encoding": {
            "x": {"field": "t", "type": "temporal", "scale": {"type": "utc", "domain": [{"year": 2012, "month": 5, "date": 10, "utc": true}, {"year": 2013, "month": 9, "date": 20, "utc": true}]}, "axis": {"orient": "bottom", "labels": false, "title": null}},
            "y": {"field": "c", "type": "quantitative", "scale": {"domain": [-5, 20], "nice": false, "zero": false}, "axis": {"orient": "left", "values": [0, 10, 20], "title": "CDOM"}},
            "stroke": {"datum": "Corrected", "scale": {"range": ["#0000ff"]}, "legend": null}
          }
        },
        {
          "data": {"name": "cdom"},
          "mark": {"type": "circle", "size": 20, "opacity": 1},
          "encoding": {
            "x": {"field": "t", "type": "temporal", "axis": {"orient": "top", "labels": false, "title": null}},
            "y": {"field": "o", "type": "quantitative", "axis": {"orient": "right", "values": [0, 10, 20], "labels": false, "title": null}},
            "fill": {"datum": "Original", "scale": {"range": ["#ff0000"]}, "legend": null}
          }
        },
        {
          "data": {"name": "breaks"},
          "mark": {"type": "rule", "color": "#000000", "strokeWidth": 5},
          "encoding": {"x": {"field": "t", "type": "temporal", "axis": null}}
        }
      ]
    },
    {
      "width": 857, "height": 243,
      "resolve": {"axis": {"x": "independent", "y": "independent"}},
      "layer": [
        {
          "data": {"name": "turb"},
          "mark": {"type": "point", "shape": "circle", "filled": false, "size": 95, "strokeWidth": 2, "opacity": 1},
          "encoding": {
            "x": {"field": "t", "type": "temporal", "scale": {"type": "utc", "domain": [{"year": 2012, "month": 5, "date": 10, "utc": true}, {"year": 2013, "month": 9, "date": 20, "utc": true}]}, "axis": {"orient": "bottom", "labels": true, "title": null}},
            "y": {"field": "c", "type": "quantitative", "scale": {"domain": [-5, 30], "nice": false, "zero": false}, "axis": {"orient": "left", "values": [0, 10, 20, 30], "title": "Turbidity"}},
            "stroke": {"datum": "Corrected", "scale": {"range": ["#0000ff"]}, "legend": null}
          }
        },
        {
          "data": {"name": "turb"},
          "mark": {"type": "circle", "size": 20, "opacity": 1},
          "encoding": {
            "x": {"field": "t", "type": "temporal", "axis": {"orient": "top", "labels": false, "title": null}},
            "y": {"field": "o", "type": "quantitative", "axis": {"orient": "right", "values": [0, 10, 20, 30], "labels": false, "title": null}},
            "fill": {"datum": "Original", "scale": {"range": ["#ff0000"]}, "legend": null}
          }
        },
        {
          "data": {"name": "breaks"},
          "mark": {"type": "rule", "color": "#000000", "strokeWidth": 5},
          "encoding": {"x": {"field": "t", "type": "temporal", "axis": null}}
        }
      ]
    }
  ]
}
